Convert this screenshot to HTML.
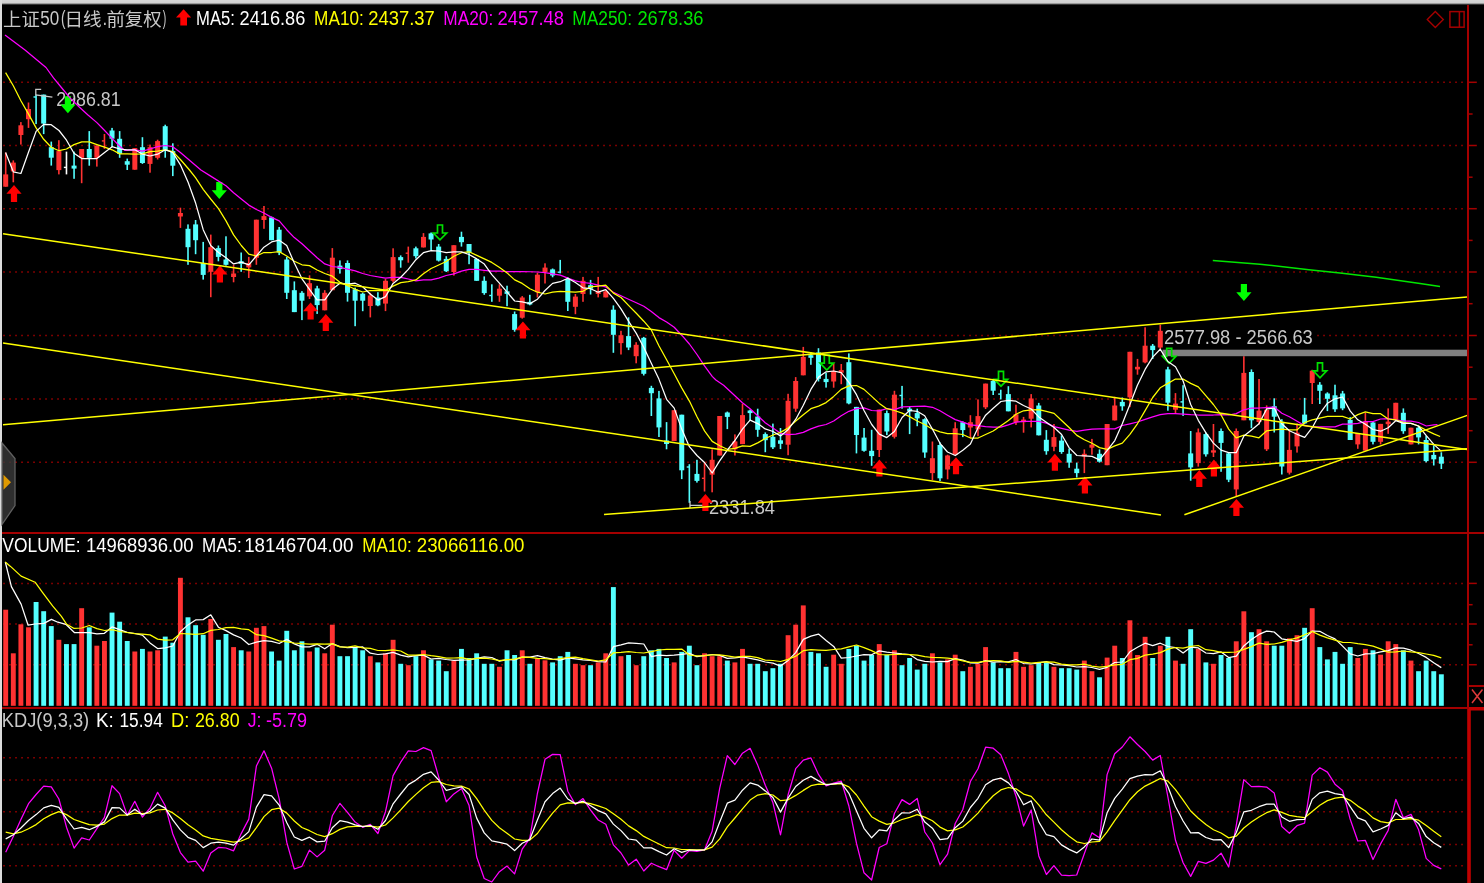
<!DOCTYPE html>
<html lang="zh"><head><meta charset="utf-8"><title>上证50</title>
<style>html,body{margin:0;padding:0;background:#000;overflow:hidden}svg{display:block}</style></head>
<body><svg width="1484" height="883" viewBox="0 0 1484 883" font-family="'Liberation Sans', 'Noto Sans CJK SC', sans-serif"><rect x="0" y="0" width="1484" height="883" fill="#000"/>
<line x1="3.3" y1="82.3" x2="1466" y2="82.3" stroke="#a60000" stroke-width="1.45" stroke-dasharray="1.45 4.55"/>
<line x1="3.3" y1="145.5" x2="1466" y2="145.5" stroke="#a60000" stroke-width="1.45" stroke-dasharray="1.45 4.55"/>
<line x1="3.3" y1="208.7" x2="1466" y2="208.7" stroke="#a60000" stroke-width="1.45" stroke-dasharray="1.45 4.55"/>
<line x1="3.3" y1="272" x2="1466" y2="272" stroke="#a60000" stroke-width="1.45" stroke-dasharray="1.45 4.55"/>
<line x1="3.3" y1="335.5" x2="1466" y2="335.5" stroke="#a60000" stroke-width="1.45" stroke-dasharray="1.45 4.55"/>
<line x1="3.3" y1="399" x2="1466" y2="399" stroke="#a60000" stroke-width="1.45" stroke-dasharray="1.45 4.55"/>
<line x1="3.3" y1="462.3" x2="1466" y2="462.3" stroke="#a60000" stroke-width="1.45" stroke-dasharray="1.45 4.55"/>
<line x1="3.3" y1="583.4" x2="1466" y2="583.4" stroke="#a60000" stroke-width="1.45" stroke-dasharray="1.45 4.55"/>
<line x1="3.3" y1="624" x2="1466" y2="624" stroke="#a60000" stroke-width="1.45" stroke-dasharray="1.45 4.55"/>
<line x1="3.3" y1="664.7" x2="1466" y2="664.7" stroke="#a60000" stroke-width="1.45" stroke-dasharray="1.45 4.55"/>
<line x1="3.3" y1="757.7" x2="1466" y2="757.7" stroke="#a60000" stroke-width="1.45" stroke-dasharray="1.45 4.55"/>
<line x1="3.3" y1="780" x2="1466" y2="780" stroke="#a60000" stroke-width="1.45" stroke-dasharray="1.45 4.55"/>
<line x1="3.3" y1="811.7" x2="1466" y2="811.7" stroke="#a60000" stroke-width="1.45" stroke-dasharray="1.45 4.55"/>
<line x1="3.3" y1="844.5" x2="1466" y2="844.5" stroke="#a60000" stroke-width="1.45" stroke-dasharray="1.45 4.55"/>
<line x1="3.3" y1="865.7" x2="1466" y2="865.7" stroke="#a60000" stroke-width="1.45" stroke-dasharray="1.45 4.55"/>
<rect x="4.90" y="152.5" width="1.6" height="34.2" fill="#ff3232"/>
<rect x="3.20" y="174.4" width="5" height="12.3" fill="#ff3232"/>
<rect x="12.50" y="160.4" width="1.6" height="21.9" fill="#ff3232"/>
<rect x="10.80" y="162.6" width="5" height="8.8" fill="#ff3232"/>
<rect x="20.09" y="122.1" width="1.6" height="22.5" fill="#ff3232"/>
<rect x="18.39" y="125.3" width="5" height="9.7" fill="#ff3232"/>
<rect x="27.69" y="102.5" width="1.6" height="25.4" fill="#ff3232"/>
<rect x="25.99" y="109.0" width="5" height="10.2" fill="#ff3232"/>
<rect x="35.28" y="94.6" width="1.6" height="29.5" fill="#54ffff"/>
<rect x="33.48" y="96.3" width="2.6" height="1.4" fill="#54ffff"/>
<rect x="42.88" y="94.6" width="1.6" height="39.5" fill="#54ffff"/>
<rect x="41.18" y="94.6" width="5" height="29.0" fill="#54ffff"/>
<rect x="50.48" y="141.6" width="1.6" height="24.0" fill="#54ffff"/>
<rect x="48.78" y="147.2" width="5" height="10.5" fill="#54ffff"/>
<rect x="58.07" y="140.2" width="1.6" height="34.2" fill="#ff3232"/>
<rect x="56.37" y="151.1" width="5" height="19.0" fill="#ff3232"/>
<rect x="65.67" y="151.6" width="1.6" height="22.8" fill="#ffffff"/>
<rect x="63.87" y="166.7" width="2.6" height="1.4" fill="#ffffff"/>
<rect x="73.26" y="151.6" width="1.6" height="27.2" fill="#54ffff"/>
<rect x="71.56" y="165.6" width="5" height="3.0" fill="#54ffff"/>
<rect x="80.86" y="149.0" width="1.6" height="34.2" fill="#ff3232"/>
<rect x="79.16" y="149.0" width="5" height="8.8" fill="#ff3232"/>
<rect x="88.46" y="131.1" width="1.6" height="34.6" fill="#54ffff"/>
<rect x="86.76" y="149.0" width="5" height="8.8" fill="#54ffff"/>
<rect x="96.05" y="145.5" width="1.6" height="21.1" fill="#ff3232"/>
<rect x="94.35" y="145.5" width="5" height="12.3" fill="#ff3232"/>
<rect x="103.65" y="134.0" width="1.6" height="14.9" fill="#ff3232"/>
<rect x="101.85" y="140.2" width="2.6" height="1.4" fill="#ff3232"/>
<rect x="111.24" y="127.9" width="1.6" height="19.3" fill="#54ffff"/>
<rect x="109.54" y="130.5" width="5" height="8.2" fill="#54ffff"/>
<rect x="118.84" y="131.1" width="1.6" height="26.7" fill="#54ffff"/>
<rect x="117.14" y="138.8" width="5" height="15.1" fill="#54ffff"/>
<rect x="126.44" y="158.6" width="1.6" height="11.4" fill="#54ffff"/>
<rect x="124.74" y="161.2" width="5" height="3.5" fill="#54ffff"/>
<rect x="134.03" y="148.1" width="1.6" height="21.6" fill="#ff3232"/>
<rect x="132.33" y="148.1" width="5" height="21.6" fill="#ff3232"/>
<rect x="141.63" y="137.2" width="1.6" height="26.7" fill="#54ffff"/>
<rect x="139.93" y="147.2" width="5" height="15.8" fill="#54ffff"/>
<rect x="149.22" y="144.6" width="1.6" height="28.1" fill="#ff3232"/>
<rect x="147.52" y="147.2" width="5" height="16.7" fill="#ff3232"/>
<rect x="156.82" y="139.7" width="1.6" height="19.8" fill="#ff3232"/>
<rect x="155.12" y="141.1" width="5" height="16.7" fill="#ff3232"/>
<rect x="164.42" y="124.7" width="1.6" height="33.0" fill="#54ffff"/>
<rect x="162.72" y="126.2" width="5" height="24.6" fill="#54ffff"/>
<rect x="172.01" y="143.3" width="1.6" height="32.8" fill="#54ffff"/>
<rect x="170.31" y="151.1" width="5" height="14.6" fill="#54ffff"/>
<rect x="179.61" y="207.7" width="1.6" height="20.2" fill="#ff3232"/>
<rect x="177.91" y="213.0" width="5" height="3.5" fill="#ff3232"/>
<rect x="187.20" y="224.4" width="1.6" height="40.4" fill="#54ffff"/>
<rect x="185.50" y="228.8" width="5" height="18.4" fill="#54ffff"/>
<rect x="194.80" y="220.0" width="1.6" height="34.2" fill="#54ffff"/>
<rect x="193.10" y="224.4" width="5" height="15.8" fill="#54ffff"/>
<rect x="202.40" y="241.9" width="1.6" height="37.7" fill="#54ffff"/>
<rect x="200.70" y="263.0" width="5" height="11.9" fill="#54ffff"/>
<rect x="209.99" y="234.6" width="1.6" height="62.6" fill="#ff3232"/>
<rect x="208.29" y="247.2" width="5" height="24.6" fill="#ff3232"/>
<rect x="217.59" y="245.5" width="1.6" height="15.8" fill="#54ffff"/>
<rect x="215.89" y="248.1" width="5" height="8.8" fill="#54ffff"/>
<rect x="225.18" y="236.3" width="1.6" height="29.3" fill="#54ffff"/>
<rect x="223.48" y="259.5" width="5" height="5.3" fill="#54ffff"/>
<rect x="232.78" y="264.8" width="1.6" height="17.5" fill="#ff3232"/>
<rect x="231.08" y="273.5" width="5" height="3.5" fill="#ff3232"/>
<rect x="240.38" y="252.5" width="1.6" height="19.3" fill="#54ffff"/>
<rect x="238.68" y="261.2" width="5" height="2.6" fill="#54ffff"/>
<rect x="247.97" y="256.9" width="1.6" height="21.1" fill="#ff3232"/>
<rect x="246.27" y="263.0" width="5" height="4.4" fill="#ff3232"/>
<rect x="255.57" y="219.7" width="1.6" height="45.1" fill="#ff3232"/>
<rect x="253.87" y="219.7" width="5" height="38.1" fill="#ff3232"/>
<rect x="263.16" y="206.0" width="1.6" height="22.8" fill="#ff3232"/>
<rect x="261.46" y="216.1" width="5" height="3.9" fill="#ff3232"/>
<rect x="270.76" y="216.5" width="1.6" height="23.7" fill="#54ffff"/>
<rect x="269.06" y="217.4" width="5" height="22.8" fill="#54ffff"/>
<rect x="278.36" y="227.0" width="1.6" height="28.1" fill="#54ffff"/>
<rect x="276.66" y="229.7" width="5" height="22.8" fill="#54ffff"/>
<rect x="285.95" y="256.9" width="1.6" height="42.1" fill="#54ffff"/>
<rect x="284.25" y="259.5" width="5" height="33.3" fill="#54ffff"/>
<rect x="293.55" y="281.4" width="1.6" height="30.7" fill="#54ffff"/>
<rect x="291.85" y="290.2" width="5" height="21.9" fill="#54ffff"/>
<rect x="301.14" y="291.1" width="1.6" height="29.0" fill="#54ffff"/>
<rect x="299.44" y="292.8" width="5" height="7.9" fill="#54ffff"/>
<rect x="308.74" y="275.3" width="1.6" height="23.7" fill="#ff3232"/>
<rect x="307.04" y="283.2" width="5" height="13.2" fill="#ff3232"/>
<rect x="316.34" y="285.8" width="1.6" height="28.1" fill="#54ffff"/>
<rect x="314.64" y="288.4" width="5" height="16.7" fill="#54ffff"/>
<rect x="323.93" y="290.2" width="1.6" height="20.2" fill="#ff3232"/>
<rect x="322.23" y="292.8" width="5" height="17.5" fill="#ff3232"/>
<rect x="331.53" y="248.1" width="1.6" height="42.1" fill="#ff3232"/>
<rect x="329.83" y="257.7" width="5" height="32.5" fill="#ff3232"/>
<rect x="339.12" y="260.4" width="1.6" height="13.2" fill="#54ffff"/>
<rect x="337.42" y="265.6" width="5" height="3.5" fill="#54ffff"/>
<rect x="346.72" y="260.4" width="1.6" height="41.2" fill="#54ffff"/>
<rect x="345.02" y="263.0" width="5" height="29.8" fill="#54ffff"/>
<rect x="354.32" y="287.6" width="1.6" height="38.6" fill="#54ffff"/>
<rect x="352.62" y="289.3" width="5" height="11.4" fill="#54ffff"/>
<rect x="361.91" y="292.8" width="1.6" height="18.4" fill="#54ffff"/>
<rect x="360.21" y="293.7" width="5" height="7.0" fill="#54ffff"/>
<rect x="369.51" y="292.8" width="1.6" height="24.6" fill="#ff3232"/>
<rect x="367.81" y="295.5" width="5" height="10.5" fill="#ff3232"/>
<rect x="377.10" y="292.2" width="1.6" height="14.0" fill="#54ffff"/>
<rect x="375.40" y="297.5" width="5" height="7.9" fill="#54ffff"/>
<rect x="384.70" y="279.0" width="1.6" height="32.1" fill="#ff3232"/>
<rect x="383.00" y="280.8" width="5" height="22.8" fill="#ff3232"/>
<rect x="392.30" y="248.3" width="1.6" height="34.2" fill="#ff3232"/>
<rect x="390.60" y="257.1" width="5" height="23.7" fill="#ff3232"/>
<rect x="399.89" y="255.4" width="1.6" height="12.3" fill="#54ffff"/>
<rect x="398.19" y="257.1" width="5" height="3.2" fill="#54ffff"/>
<rect x="407.49" y="246.6" width="1.6" height="16.1" fill="#ff3232"/>
<rect x="405.69" y="252.5" width="2.6" height="1.4" fill="#ff3232"/>
<rect x="415.08" y="246.6" width="1.6" height="11.9" fill="#54ffff"/>
<rect x="413.38" y="248.3" width="5" height="7.9" fill="#54ffff"/>
<rect x="422.68" y="233.1" width="1.6" height="14.4" fill="#ff3232"/>
<rect x="420.98" y="236.9" width="5" height="10.5" fill="#ff3232"/>
<rect x="430.28" y="232.5" width="1.6" height="17.5" fill="#54ffff"/>
<rect x="428.58" y="233.4" width="5" height="6.1" fill="#54ffff"/>
<rect x="437.87" y="244.0" width="1.6" height="17.5" fill="#54ffff"/>
<rect x="436.17" y="246.6" width="5" height="14.0" fill="#54ffff"/>
<rect x="445.47" y="256.2" width="1.6" height="15.8" fill="#54ffff"/>
<rect x="443.77" y="258.9" width="5" height="12.3" fill="#54ffff"/>
<rect x="453.06" y="245.2" width="1.6" height="30.4" fill="#ff3232"/>
<rect x="451.36" y="245.2" width="5" height="26.8" fill="#ff3232"/>
<rect x="460.66" y="231.7" width="1.6" height="14.9" fill="#54ffff"/>
<rect x="458.96" y="236.9" width="5" height="5.3" fill="#54ffff"/>
<rect x="468.26" y="244.0" width="1.6" height="20.2" fill="#54ffff"/>
<rect x="466.56" y="244.0" width="5" height="8.8" fill="#54ffff"/>
<rect x="475.85" y="258.9" width="1.6" height="21.9" fill="#54ffff"/>
<rect x="474.15" y="258.9" width="5" height="21.9" fill="#54ffff"/>
<rect x="483.45" y="276.4" width="1.6" height="18.4" fill="#54ffff"/>
<rect x="481.75" y="280.8" width="5" height="12.3" fill="#54ffff"/>
<rect x="491.04" y="284.3" width="1.6" height="17.5" fill="#54ffff"/>
<rect x="489.24" y="294.8" width="2.6" height="1.4" fill="#54ffff"/>
<rect x="498.64" y="284.3" width="1.6" height="17.5" fill="#ff3232"/>
<rect x="496.94" y="288.7" width="5" height="7.0" fill="#ff3232"/>
<rect x="506.24" y="285.7" width="1.6" height="20.5" fill="#54ffff"/>
<rect x="504.54" y="291.3" width="5" height="2.6" fill="#54ffff"/>
<rect x="513.83" y="311.5" width="1.6" height="20.2" fill="#54ffff"/>
<rect x="512.13" y="314.1" width="5" height="15.8" fill="#54ffff"/>
<rect x="521.43" y="296.1" width="1.6" height="22.5" fill="#ff3232"/>
<rect x="519.73" y="297.5" width="5" height="20.2" fill="#ff3232"/>
<rect x="529.02" y="294.8" width="1.6" height="10.5" fill="#54ffff"/>
<rect x="527.32" y="301.9" width="5" height="2.6" fill="#54ffff"/>
<rect x="536.62" y="272.9" width="1.6" height="24.6" fill="#ff3232"/>
<rect x="534.92" y="274.7" width="5" height="17.5" fill="#ff3232"/>
<rect x="544.22" y="263.3" width="1.6" height="20.2" fill="#ff3232"/>
<rect x="542.52" y="267.6" width="5" height="4.4" fill="#ff3232"/>
<rect x="551.81" y="268.5" width="1.6" height="8.8" fill="#54ffff"/>
<rect x="550.11" y="269.4" width="5" height="6.1" fill="#54ffff"/>
<rect x="559.41" y="259.9" width="1.6" height="13.5" fill="#54ffff"/>
<rect x="557.61" y="271.5" width="2.6" height="1.4" fill="#54ffff"/>
<rect x="567.00" y="277.3" width="1.6" height="33.7" fill="#54ffff"/>
<rect x="565.30" y="279.0" width="5" height="22.8" fill="#54ffff"/>
<rect x="574.60" y="294.0" width="1.6" height="20.2" fill="#ff3232"/>
<rect x="572.90" y="296.6" width="5" height="10.2" fill="#ff3232"/>
<rect x="582.20" y="276.9" width="1.6" height="24.9" fill="#ff3232"/>
<rect x="580.50" y="280.8" width="5" height="13.2" fill="#ff3232"/>
<rect x="589.79" y="279.9" width="1.6" height="14.6" fill="#54ffff"/>
<rect x="588.09" y="285.2" width="5" height="3.5" fill="#54ffff"/>
<rect x="597.39" y="276.9" width="1.6" height="20.5" fill="#ff3232"/>
<rect x="595.69" y="291.3" width="5" height="2.6" fill="#ff3232"/>
<rect x="604.98" y="290.4" width="1.6" height="7.0" fill="#ff3232"/>
<rect x="603.28" y="291.3" width="5" height="6.1" fill="#ff3232"/>
<rect x="612.58" y="305.4" width="1.6" height="47.4" fill="#54ffff"/>
<rect x="610.88" y="309.7" width="5" height="25.1" fill="#54ffff"/>
<rect x="620.18" y="330.8" width="1.6" height="23.7" fill="#ff3232"/>
<rect x="618.48" y="335.2" width="5" height="7.9" fill="#ff3232"/>
<rect x="627.77" y="317.3" width="1.6" height="32.8" fill="#54ffff"/>
<rect x="626.07" y="336.1" width="5" height="11.4" fill="#54ffff"/>
<rect x="635.37" y="342.2" width="1.6" height="21.1" fill="#ff3232"/>
<rect x="633.67" y="344.8" width="5" height="11.4" fill="#ff3232"/>
<rect x="642.96" y="336.9" width="1.6" height="38.6" fill="#54ffff"/>
<rect x="641.26" y="337.8" width="5" height="36.0" fill="#54ffff"/>
<rect x="650.56" y="385.8" width="1.6" height="30.2" fill="#54ffff"/>
<rect x="648.86" y="387.9" width="5" height="5.3" fill="#54ffff"/>
<rect x="658.16" y="390.9" width="1.6" height="46.1" fill="#54ffff"/>
<rect x="656.46" y="398.4" width="5" height="29.0" fill="#54ffff"/>
<rect x="665.75" y="422.1" width="1.6" height="27.2" fill="#54ffff"/>
<rect x="664.05" y="440.5" width="5" height="3.5" fill="#54ffff"/>
<rect x="673.35" y="410.2" width="1.6" height="30.9" fill="#ff3232"/>
<rect x="671.65" y="410.2" width="5" height="30.9" fill="#ff3232"/>
<rect x="680.94" y="414.7" width="1.6" height="64.4" fill="#54ffff"/>
<rect x="679.24" y="414.7" width="5" height="55.6" fill="#54ffff"/>
<rect x="688.54" y="464.2" width="1.6" height="38.6" fill="#54ffff"/>
<rect x="686.74" y="466.3" width="2.6" height="1.4" fill="#54ffff"/>
<rect x="696.14" y="459.8" width="1.6" height="22.8" fill="#54ffff"/>
<rect x="694.44" y="473.9" width="5" height="7.0" fill="#54ffff"/>
<rect x="703.73" y="462.5" width="1.6" height="29.0" fill="#ff3232"/>
<rect x="701.93" y="477.6" width="2.6" height="1.4" fill="#ff3232"/>
<rect x="711.33" y="449.3" width="1.6" height="43.0" fill="#ff3232"/>
<rect x="709.63" y="459.8" width="5" height="14.9" fill="#ff3232"/>
<rect x="718.92" y="416.0" width="1.6" height="39.5" fill="#ff3232"/>
<rect x="717.22" y="416.0" width="5" height="39.5" fill="#ff3232"/>
<rect x="726.52" y="411.6" width="1.6" height="17.5" fill="#54ffff"/>
<rect x="724.82" y="412.5" width="5" height="4.4" fill="#54ffff"/>
<rect x="734.12" y="434.4" width="1.6" height="21.1" fill="#ff3232"/>
<rect x="732.42" y="441.4" width="5" height="7.9" fill="#ff3232"/>
<rect x="741.71" y="403.7" width="1.6" height="40.4" fill="#ff3232"/>
<rect x="740.01" y="415.1" width="5" height="29.0" fill="#ff3232"/>
<rect x="749.31" y="409.6" width="1.6" height="11.4" fill="#54ffff"/>
<rect x="747.61" y="410.5" width="5" height="2.6" fill="#54ffff"/>
<rect x="756.90" y="408.7" width="1.6" height="28.1" fill="#54ffff"/>
<rect x="755.20" y="416.6" width="5" height="13.2" fill="#54ffff"/>
<rect x="764.50" y="432.4" width="1.6" height="19.8" fill="#54ffff"/>
<rect x="762.80" y="434.1" width="5" height="6.1" fill="#54ffff"/>
<rect x="772.10" y="423.6" width="1.6" height="25.4" fill="#54ffff"/>
<rect x="770.40" y="436.8" width="5" height="10.5" fill="#54ffff"/>
<rect x="779.69" y="428.0" width="1.6" height="21.1" fill="#54ffff"/>
<rect x="777.99" y="440.3" width="5" height="3.5" fill="#54ffff"/>
<rect x="787.29" y="393.8" width="1.6" height="61.4" fill="#ff3232"/>
<rect x="785.59" y="400.8" width="5" height="43.9" fill="#ff3232"/>
<rect x="794.88" y="377.1" width="1.6" height="34.7" fill="#ff3232"/>
<rect x="793.18" y="381.0" width="5" height="27.7" fill="#ff3232"/>
<rect x="802.48" y="346.9" width="1.6" height="28.4" fill="#ff3232"/>
<rect x="800.78" y="356.9" width="5" height="18.4" fill="#ff3232"/>
<rect x="810.08" y="352.5" width="1.6" height="12.3" fill="#54ffff"/>
<rect x="808.38" y="355.2" width="5" height="2.6" fill="#54ffff"/>
<rect x="817.67" y="348.2" width="1.6" height="33.3" fill="#54ffff"/>
<rect x="815.97" y="352.5" width="5" height="26.3" fill="#54ffff"/>
<rect x="825.27" y="372.7" width="1.6" height="14.9" fill="#54ffff"/>
<rect x="823.57" y="378.9" width="5" height="3.2" fill="#54ffff"/>
<rect x="832.86" y="363.1" width="1.6" height="24.6" fill="#ff3232"/>
<rect x="831.16" y="371.0" width="5" height="10.5" fill="#ff3232"/>
<rect x="840.46" y="364.0" width="1.6" height="20.2" fill="#ff3232"/>
<rect x="838.76" y="370.1" width="5" height="2.6" fill="#ff3232"/>
<rect x="848.06" y="353.4" width="1.6" height="50.9" fill="#54ffff"/>
<rect x="846.36" y="362.2" width="5" height="41.2" fill="#54ffff"/>
<rect x="855.65" y="406.9" width="1.6" height="46.5" fill="#54ffff"/>
<rect x="853.95" y="406.9" width="5" height="28.1" fill="#54ffff"/>
<rect x="863.25" y="428.0" width="1.6" height="23.7" fill="#54ffff"/>
<rect x="861.55" y="437.6" width="5" height="13.2" fill="#54ffff"/>
<rect x="870.84" y="429.8" width="1.6" height="36.0" fill="#54ffff"/>
<rect x="869.14" y="450.8" width="5" height="5.3" fill="#54ffff"/>
<rect x="878.44" y="409.6" width="1.6" height="47.4" fill="#ff3232"/>
<rect x="876.74" y="409.6" width="5" height="40.4" fill="#ff3232"/>
<rect x="886.04" y="410.5" width="1.6" height="24.6" fill="#54ffff"/>
<rect x="884.34" y="413.1" width="5" height="18.4" fill="#54ffff"/>
<rect x="893.63" y="390.8" width="1.6" height="47.7" fill="#ff3232"/>
<rect x="891.93" y="394.7" width="5" height="42.1" fill="#ff3232"/>
<rect x="901.23" y="385.9" width="1.6" height="22.8" fill="#54ffff"/>
<rect x="899.43" y="394.8" width="2.6" height="1.4" fill="#54ffff"/>
<rect x="908.82" y="406.9" width="1.6" height="27.2" fill="#54ffff"/>
<rect x="907.12" y="408.7" width="5" height="2.6" fill="#54ffff"/>
<rect x="916.42" y="408.7" width="1.6" height="17.5" fill="#54ffff"/>
<rect x="914.72" y="413.1" width="5" height="5.3" fill="#54ffff"/>
<rect x="924.02" y="418.3" width="1.6" height="39.5" fill="#54ffff"/>
<rect x="922.32" y="419.2" width="5" height="33.3" fill="#54ffff"/>
<rect x="931.61" y="441.5" width="1.6" height="38.6" fill="#ff3232"/>
<rect x="929.91" y="458.2" width="5" height="14.9" fill="#ff3232"/>
<rect x="939.21" y="442.4" width="1.6" height="38.6" fill="#54ffff"/>
<rect x="937.51" y="445.0" width="5" height="33.3" fill="#54ffff"/>
<rect x="946.80" y="454.7" width="1.6" height="24.6" fill="#ff3232"/>
<rect x="945.10" y="455.5" width="5" height="14.0" fill="#ff3232"/>
<rect x="954.40" y="422.2" width="1.6" height="32.5" fill="#ff3232"/>
<rect x="952.70" y="428.3" width="5" height="26.3" fill="#ff3232"/>
<rect x="962.00" y="421.3" width="1.6" height="15.8" fill="#54ffff"/>
<rect x="960.30" y="422.2" width="5" height="7.9" fill="#54ffff"/>
<rect x="969.59" y="415.2" width="1.6" height="22.8" fill="#ff3232"/>
<rect x="967.89" y="422.2" width="5" height="5.3" fill="#ff3232"/>
<rect x="977.19" y="399.4" width="1.6" height="36.8" fill="#ff3232"/>
<rect x="975.49" y="416.1" width="5" height="13.2" fill="#ff3232"/>
<rect x="984.78" y="383.6" width="1.6" height="25.4" fill="#ff3232"/>
<rect x="983.08" y="383.6" width="5" height="23.7" fill="#ff3232"/>
<rect x="992.38" y="379.2" width="1.6" height="15.8" fill="#54ffff"/>
<rect x="990.68" y="381.0" width="5" height="9.7" fill="#54ffff"/>
<rect x="999.98" y="389.7" width="1.6" height="9.7" fill="#54ffff"/>
<rect x="998.18" y="393.4" width="2.6" height="1.4" fill="#54ffff"/>
<rect x="1007.57" y="386.2" width="1.6" height="25.1" fill="#54ffff"/>
<rect x="1005.87" y="394.1" width="5" height="17.2" fill="#54ffff"/>
<rect x="1015.17" y="404.7" width="1.6" height="20.2" fill="#ff3232"/>
<rect x="1013.47" y="414.3" width="5" height="7.9" fill="#ff3232"/>
<rect x="1022.76" y="416.9" width="1.6" height="15.8" fill="#ff3232"/>
<rect x="1021.06" y="419.6" width="5" height="2.6" fill="#ff3232"/>
<rect x="1030.36" y="394.1" width="1.6" height="33.3" fill="#ff3232"/>
<rect x="1028.66" y="398.5" width="5" height="20.2" fill="#ff3232"/>
<rect x="1037.96" y="402.9" width="1.6" height="32.5" fill="#54ffff"/>
<rect x="1036.26" y="405.5" width="5" height="29.8" fill="#54ffff"/>
<rect x="1045.55" y="430.1" width="1.6" height="24.6" fill="#54ffff"/>
<rect x="1043.85" y="439.8" width="5" height="11.4" fill="#54ffff"/>
<rect x="1053.15" y="424.0" width="1.6" height="27.2" fill="#ff3232"/>
<rect x="1051.45" y="437.1" width="5" height="9.7" fill="#ff3232"/>
<rect x="1060.74" y="435.4" width="1.6" height="18.4" fill="#54ffff"/>
<rect x="1059.04" y="440.6" width="5" height="11.4" fill="#54ffff"/>
<rect x="1068.34" y="448.5" width="1.6" height="19.3" fill="#54ffff"/>
<rect x="1066.64" y="453.8" width="5" height="8.8" fill="#54ffff"/>
<rect x="1075.94" y="462.6" width="1.6" height="14.9" fill="#54ffff"/>
<rect x="1074.24" y="468.7" width="5" height="4.4" fill="#54ffff"/>
<rect x="1083.53" y="449.4" width="1.6" height="23.7" fill="#ff3232"/>
<rect x="1081.83" y="453.8" width="5" height="2.6" fill="#ff3232"/>
<rect x="1091.13" y="438.9" width="1.6" height="15.8" fill="#ff3232"/>
<rect x="1089.43" y="444.7" width="5" height="3.0" fill="#ff3232"/>
<rect x="1098.72" y="449.4" width="1.6" height="13.2" fill="#54ffff"/>
<rect x="1097.02" y="453.8" width="5" height="7.9" fill="#54ffff"/>
<rect x="1106.32" y="424.0" width="1.6" height="41.2" fill="#ff3232"/>
<rect x="1104.62" y="424.0" width="5" height="41.2" fill="#ff3232"/>
<rect x="1113.92" y="396.8" width="1.6" height="23.7" fill="#ff3232"/>
<rect x="1112.22" y="405.5" width="5" height="14.9" fill="#ff3232"/>
<rect x="1121.51" y="397.5" width="1.6" height="13.2" fill="#54ffff"/>
<rect x="1119.81" y="401.9" width="5" height="4.4" fill="#54ffff"/>
<rect x="1129.11" y="351.8" width="1.6" height="55.3" fill="#ff3232"/>
<rect x="1127.41" y="351.8" width="5" height="45.6" fill="#ff3232"/>
<rect x="1136.70" y="358.9" width="1.6" height="15.8" fill="#ff3232"/>
<rect x="1135.00" y="366.8" width="5" height="2.6" fill="#ff3232"/>
<rect x="1144.30" y="327.3" width="1.6" height="36.0" fill="#ff3232"/>
<rect x="1142.60" y="345.7" width="5" height="16.7" fill="#ff3232"/>
<rect x="1151.90" y="344.0" width="1.6" height="14.9" fill="#54ffff"/>
<rect x="1150.20" y="345.7" width="5" height="4.4" fill="#54ffff"/>
<rect x="1159.49" y="324.7" width="1.6" height="24.6" fill="#ff3232"/>
<rect x="1157.79" y="330.8" width="5" height="16.7" fill="#ff3232"/>
<rect x="1167.09" y="366.8" width="1.6" height="43.9" fill="#54ffff"/>
<rect x="1165.39" y="369.4" width="5" height="33.3" fill="#54ffff"/>
<rect x="1174.68" y="393.1" width="1.6" height="20.2" fill="#ff3232"/>
<rect x="1172.98" y="403.6" width="5" height="6.1" fill="#ff3232"/>
<rect x="1182.28" y="385.2" width="1.6" height="30.7" fill="#54ffff"/>
<rect x="1180.48" y="401.2" width="2.6" height="1.4" fill="#54ffff"/>
<rect x="1189.88" y="431.0" width="1.6" height="49.7" fill="#54ffff"/>
<rect x="1188.18" y="453.4" width="5" height="14.0" fill="#54ffff"/>
<rect x="1197.47" y="428.5" width="1.6" height="38.1" fill="#ff3232"/>
<rect x="1195.77" y="432.4" width="5" height="30.7" fill="#ff3232"/>
<rect x="1205.07" y="432.4" width="1.6" height="24.2" fill="#54ffff"/>
<rect x="1203.37" y="434.1" width="5" height="20.2" fill="#54ffff"/>
<rect x="1212.66" y="424.0" width="1.6" height="33.0" fill="#ff3232"/>
<rect x="1210.96" y="450.3" width="5" height="2.3" fill="#ff3232"/>
<rect x="1220.26" y="428.5" width="1.6" height="43.3" fill="#54ffff"/>
<rect x="1218.56" y="431.0" width="5" height="11.9" fill="#54ffff"/>
<rect x="1227.86" y="452.6" width="1.6" height="29.5" fill="#54ffff"/>
<rect x="1226.16" y="453.4" width="5" height="26.3" fill="#54ffff"/>
<rect x="1235.45" y="428.5" width="1.6" height="67.9" fill="#ff3232"/>
<rect x="1233.75" y="431.0" width="5" height="58.4" fill="#ff3232"/>
<rect x="1243.05" y="356.2" width="1.6" height="64.0" fill="#ff3232"/>
<rect x="1241.35" y="372.9" width="5" height="47.4" fill="#ff3232"/>
<rect x="1250.64" y="369.4" width="1.6" height="58.8" fill="#54ffff"/>
<rect x="1248.94" y="372.0" width="5" height="48.3" fill="#54ffff"/>
<rect x="1258.24" y="379.0" width="1.6" height="45.6" fill="#ff3232"/>
<rect x="1256.54" y="410.6" width="5" height="11.4" fill="#ff3232"/>
<rect x="1265.84" y="405.4" width="1.6" height="45.6" fill="#ff3232"/>
<rect x="1264.14" y="409.8" width="5" height="39.5" fill="#ff3232"/>
<rect x="1273.43" y="398.3" width="1.6" height="34.2" fill="#54ffff"/>
<rect x="1271.73" y="406.2" width="5" height="10.5" fill="#54ffff"/>
<rect x="1281.03" y="419.2" width="1.6" height="55.3" fill="#54ffff"/>
<rect x="1279.33" y="421.8" width="5" height="44.7" fill="#54ffff"/>
<rect x="1288.62" y="431.0" width="1.6" height="43.5" fill="#ff3232"/>
<rect x="1286.92" y="449.9" width="5" height="22.8" fill="#ff3232"/>
<rect x="1296.22" y="423.6" width="1.6" height="29.0" fill="#ff3232"/>
<rect x="1294.52" y="432.7" width="5" height="13.7" fill="#ff3232"/>
<rect x="1303.82" y="397.9" width="1.6" height="26.3" fill="#54ffff"/>
<rect x="1302.12" y="414.6" width="5" height="8.8" fill="#54ffff"/>
<rect x="1311.41" y="369.8" width="1.6" height="34.2" fill="#ff3232"/>
<rect x="1309.71" y="370.7" width="5" height="12.3" fill="#ff3232"/>
<rect x="1319.01" y="382.1" width="1.6" height="21.9" fill="#54ffff"/>
<rect x="1317.31" y="384.7" width="5" height="6.1" fill="#54ffff"/>
<rect x="1326.60" y="392.3" width="1.6" height="18.8" fill="#54ffff"/>
<rect x="1324.90" y="393.5" width="5" height="5.3" fill="#54ffff"/>
<rect x="1334.20" y="384.7" width="1.6" height="27.2" fill="#54ffff"/>
<rect x="1332.50" y="395.3" width="5" height="14.0" fill="#54ffff"/>
<rect x="1341.80" y="390.9" width="1.6" height="19.3" fill="#54ffff"/>
<rect x="1340.10" y="393.5" width="5" height="14.9" fill="#54ffff"/>
<rect x="1349.39" y="417.2" width="1.6" height="22.8" fill="#54ffff"/>
<rect x="1347.69" y="419.8" width="5" height="20.2" fill="#54ffff"/>
<rect x="1356.99" y="433.0" width="1.6" height="15.8" fill="#ff3232"/>
<rect x="1355.29" y="433.0" width="5" height="11.4" fill="#ff3232"/>
<rect x="1364.58" y="412.8" width="1.6" height="37.7" fill="#ff3232"/>
<rect x="1362.88" y="421.6" width="5" height="29.0" fill="#ff3232"/>
<rect x="1372.18" y="421.6" width="1.6" height="22.8" fill="#54ffff"/>
<rect x="1370.48" y="422.5" width="5" height="19.3" fill="#54ffff"/>
<rect x="1379.78" y="423.9" width="1.6" height="20.5" fill="#ff3232"/>
<rect x="1378.08" y="423.9" width="5" height="17.9" fill="#ff3232"/>
<rect x="1387.37" y="408.4" width="1.6" height="25.4" fill="#ff3232"/>
<rect x="1385.67" y="421.6" width="5" height="2.6" fill="#ff3232"/>
<rect x="1394.97" y="402.8" width="1.6" height="17.0" fill="#ff3232"/>
<rect x="1393.27" y="402.8" width="5" height="17.0" fill="#ff3232"/>
<rect x="1402.56" y="408.4" width="1.6" height="25.4" fill="#54ffff"/>
<rect x="1400.86" y="412.8" width="5" height="18.4" fill="#54ffff"/>
<rect x="1410.16" y="427.7" width="1.6" height="16.7" fill="#ff3232"/>
<rect x="1408.46" y="427.7" width="5" height="16.7" fill="#ff3232"/>
<rect x="1417.76" y="426.0" width="1.6" height="18.4" fill="#54ffff"/>
<rect x="1416.06" y="427.7" width="5" height="9.7" fill="#54ffff"/>
<rect x="1425.35" y="435.6" width="1.6" height="26.8" fill="#54ffff"/>
<rect x="1423.65" y="440.0" width="5" height="21.1" fill="#54ffff"/>
<rect x="1432.95" y="445.3" width="1.6" height="20.2" fill="#54ffff"/>
<rect x="1431.25" y="454.9" width="5" height="4.4" fill="#54ffff"/>
<rect x="1440.54" y="452.3" width="1.6" height="16.7" fill="#54ffff"/>
<rect x="1438.84" y="456.7" width="5" height="7.0" fill="#54ffff"/>
<rect x="3.25" y="609.7" width="4.9" height="96.1" fill="#ff3232"/>
<rect x="10.85" y="653.3" width="4.9" height="52.5" fill="#ff3232"/>
<rect x="18.44" y="624.3" width="4.9" height="81.5" fill="#ff3232"/>
<rect x="26.04" y="627.3" width="4.9" height="78.5" fill="#ff3232"/>
<rect x="33.63" y="602.0" width="4.9" height="103.8" fill="#54ffff"/>
<rect x="41.23" y="611.2" width="4.9" height="94.6" fill="#54ffff"/>
<rect x="48.83" y="626.1" width="4.9" height="79.7" fill="#54ffff"/>
<rect x="56.42" y="639.8" width="4.9" height="66.0" fill="#ff3232"/>
<rect x="64.02" y="644.1" width="4.9" height="61.7" fill="#54ffff"/>
<rect x="71.61" y="644.1" width="4.9" height="61.7" fill="#54ffff"/>
<rect x="79.21" y="608.2" width="4.9" height="97.6" fill="#ff3232"/>
<rect x="86.81" y="627.3" width="4.9" height="78.5" fill="#54ffff"/>
<rect x="94.40" y="645.7" width="4.9" height="60.1" fill="#ff3232"/>
<rect x="102.00" y="641.0" width="4.9" height="64.8" fill="#ff3232"/>
<rect x="109.59" y="612.6" width="4.9" height="93.2" fill="#54ffff"/>
<rect x="117.19" y="621.7" width="4.9" height="84.1" fill="#54ffff"/>
<rect x="124.79" y="641.0" width="4.9" height="64.8" fill="#54ffff"/>
<rect x="132.38" y="651.5" width="4.9" height="54.3" fill="#ff3232"/>
<rect x="139.98" y="648.9" width="4.9" height="56.9" fill="#54ffff"/>
<rect x="147.57" y="651.5" width="4.9" height="54.3" fill="#ff3232"/>
<rect x="155.17" y="650.3" width="4.9" height="55.5" fill="#ff3232"/>
<rect x="162.77" y="636.6" width="4.9" height="69.2" fill="#54ffff"/>
<rect x="170.36" y="642.7" width="4.9" height="63.1" fill="#54ffff"/>
<rect x="177.96" y="577.8" width="4.9" height="128.0" fill="#ff3232"/>
<rect x="185.55" y="617.3" width="4.9" height="88.5" fill="#54ffff"/>
<rect x="193.15" y="625.2" width="4.9" height="80.6" fill="#54ffff"/>
<rect x="200.75" y="634.8" width="4.9" height="71.0" fill="#54ffff"/>
<rect x="208.34" y="619.0" width="4.9" height="86.8" fill="#ff3232"/>
<rect x="215.94" y="639.8" width="4.9" height="66.0" fill="#54ffff"/>
<rect x="223.53" y="634.0" width="4.9" height="71.8" fill="#54ffff"/>
<rect x="231.13" y="647.1" width="4.9" height="58.7" fill="#ff3232"/>
<rect x="238.73" y="650.3" width="4.9" height="55.5" fill="#54ffff"/>
<rect x="246.32" y="651.5" width="4.9" height="54.3" fill="#ff3232"/>
<rect x="253.92" y="627.8" width="4.9" height="78.0" fill="#ff3232"/>
<rect x="261.51" y="626.1" width="4.9" height="79.7" fill="#ff3232"/>
<rect x="269.11" y="651.5" width="4.9" height="54.3" fill="#54ffff"/>
<rect x="276.71" y="660.6" width="4.9" height="45.2" fill="#54ffff"/>
<rect x="284.30" y="630.8" width="4.9" height="75.0" fill="#54ffff"/>
<rect x="291.90" y="650.3" width="4.9" height="55.5" fill="#54ffff"/>
<rect x="299.49" y="641.3" width="4.9" height="64.5" fill="#54ffff"/>
<rect x="307.09" y="651.5" width="4.9" height="54.3" fill="#ff3232"/>
<rect x="314.69" y="647.5" width="4.9" height="58.3" fill="#54ffff"/>
<rect x="322.28" y="653.3" width="4.9" height="52.5" fill="#ff3232"/>
<rect x="329.88" y="624.7" width="4.9" height="81.1" fill="#ff3232"/>
<rect x="337.47" y="656.2" width="4.9" height="49.6" fill="#54ffff"/>
<rect x="345.07" y="656.2" width="4.9" height="49.6" fill="#54ffff"/>
<rect x="352.67" y="647.1" width="4.9" height="58.7" fill="#54ffff"/>
<rect x="360.26" y="650.3" width="4.9" height="55.5" fill="#54ffff"/>
<rect x="367.86" y="656.2" width="4.9" height="49.6" fill="#ff3232"/>
<rect x="375.45" y="662.4" width="4.9" height="43.4" fill="#54ffff"/>
<rect x="383.05" y="653.3" width="4.9" height="52.5" fill="#ff3232"/>
<rect x="390.65" y="639.8" width="4.9" height="66.0" fill="#ff3232"/>
<rect x="398.24" y="663.8" width="4.9" height="42.0" fill="#54ffff"/>
<rect x="405.84" y="665.2" width="4.9" height="40.6" fill="#ff3232"/>
<rect x="413.43" y="656.2" width="4.9" height="49.6" fill="#54ffff"/>
<rect x="421.03" y="650.3" width="4.9" height="55.5" fill="#ff3232"/>
<rect x="428.63" y="659.4" width="4.9" height="46.4" fill="#54ffff"/>
<rect x="436.22" y="660.6" width="4.9" height="45.2" fill="#54ffff"/>
<rect x="443.82" y="671.2" width="4.9" height="34.6" fill="#54ffff"/>
<rect x="451.41" y="660.6" width="4.9" height="45.2" fill="#ff3232"/>
<rect x="459.01" y="648.9" width="4.9" height="56.9" fill="#54ffff"/>
<rect x="466.61" y="658.0" width="4.9" height="47.8" fill="#54ffff"/>
<rect x="474.20" y="653.3" width="4.9" height="52.5" fill="#54ffff"/>
<rect x="481.80" y="663.8" width="4.9" height="42.0" fill="#54ffff"/>
<rect x="489.39" y="663.8" width="4.9" height="42.0" fill="#54ffff"/>
<rect x="496.99" y="666.8" width="4.9" height="39.0" fill="#ff3232"/>
<rect x="504.59" y="650.3" width="4.9" height="55.5" fill="#54ffff"/>
<rect x="512.18" y="655.0" width="4.9" height="50.8" fill="#54ffff"/>
<rect x="519.78" y="650.3" width="4.9" height="55.5" fill="#ff3232"/>
<rect x="527.37" y="663.8" width="4.9" height="42.0" fill="#54ffff"/>
<rect x="534.97" y="658.5" width="4.9" height="47.3" fill="#ff3232"/>
<rect x="542.57" y="660.3" width="4.9" height="45.5" fill="#ff3232"/>
<rect x="550.16" y="662.4" width="4.9" height="43.4" fill="#54ffff"/>
<rect x="557.76" y="656.2" width="4.9" height="49.6" fill="#54ffff"/>
<rect x="565.35" y="651.9" width="4.9" height="53.9" fill="#54ffff"/>
<rect x="572.95" y="663.8" width="4.9" height="42.0" fill="#ff3232"/>
<rect x="580.55" y="665.2" width="4.9" height="40.6" fill="#ff3232"/>
<rect x="588.14" y="665.2" width="4.9" height="40.6" fill="#54ffff"/>
<rect x="595.74" y="662.4" width="4.9" height="43.4" fill="#ff3232"/>
<rect x="603.33" y="653.3" width="4.9" height="52.5" fill="#ff3232"/>
<rect x="610.93" y="587.1" width="4.9" height="118.7" fill="#54ffff"/>
<rect x="618.53" y="656.2" width="4.9" height="49.6" fill="#ff3232"/>
<rect x="626.12" y="655.0" width="4.9" height="50.8" fill="#54ffff"/>
<rect x="633.72" y="665.2" width="4.9" height="40.6" fill="#ff3232"/>
<rect x="641.31" y="656.2" width="4.9" height="49.6" fill="#54ffff"/>
<rect x="648.91" y="650.3" width="4.9" height="55.5" fill="#54ffff"/>
<rect x="656.51" y="648.9" width="4.9" height="56.9" fill="#54ffff"/>
<rect x="664.10" y="658.0" width="4.9" height="47.8" fill="#54ffff"/>
<rect x="671.70" y="662.4" width="4.9" height="43.4" fill="#ff3232"/>
<rect x="679.29" y="651.9" width="4.9" height="53.9" fill="#54ffff"/>
<rect x="686.89" y="645.7" width="4.9" height="60.1" fill="#54ffff"/>
<rect x="694.49" y="665.2" width="4.9" height="40.6" fill="#54ffff"/>
<rect x="702.08" y="653.3" width="4.9" height="52.5" fill="#ff3232"/>
<rect x="709.68" y="656.2" width="4.9" height="49.6" fill="#ff3232"/>
<rect x="717.27" y="656.2" width="4.9" height="49.6" fill="#ff3232"/>
<rect x="724.87" y="660.6" width="4.9" height="45.2" fill="#54ffff"/>
<rect x="732.47" y="662.4" width="4.9" height="43.4" fill="#ff3232"/>
<rect x="740.06" y="648.9" width="4.9" height="56.9" fill="#ff3232"/>
<rect x="747.66" y="663.8" width="4.9" height="42.0" fill="#54ffff"/>
<rect x="755.25" y="663.8" width="4.9" height="42.0" fill="#54ffff"/>
<rect x="762.85" y="671.2" width="4.9" height="34.6" fill="#54ffff"/>
<rect x="770.45" y="668.2" width="4.9" height="37.6" fill="#54ffff"/>
<rect x="778.04" y="663.8" width="4.9" height="42.0" fill="#54ffff"/>
<rect x="785.64" y="635.2" width="4.9" height="70.6" fill="#ff3232"/>
<rect x="793.23" y="624.7" width="4.9" height="81.1" fill="#ff3232"/>
<rect x="800.83" y="605.4" width="4.9" height="100.4" fill="#ff3232"/>
<rect x="808.43" y="651.9" width="4.9" height="53.9" fill="#54ffff"/>
<rect x="816.02" y="653.3" width="4.9" height="52.5" fill="#54ffff"/>
<rect x="823.62" y="666.8" width="4.9" height="39.0" fill="#54ffff"/>
<rect x="831.21" y="654.7" width="4.9" height="51.1" fill="#ff3232"/>
<rect x="838.81" y="663.8" width="4.9" height="42.0" fill="#ff3232"/>
<rect x="846.41" y="648.9" width="4.9" height="56.9" fill="#54ffff"/>
<rect x="854.00" y="645.7" width="4.9" height="60.1" fill="#54ffff"/>
<rect x="861.60" y="660.6" width="4.9" height="45.2" fill="#54ffff"/>
<rect x="869.19" y="655.0" width="4.9" height="50.8" fill="#54ffff"/>
<rect x="876.79" y="644.1" width="4.9" height="61.7" fill="#ff3232"/>
<rect x="884.39" y="655.0" width="4.9" height="50.8" fill="#54ffff"/>
<rect x="891.98" y="650.3" width="4.9" height="55.5" fill="#ff3232"/>
<rect x="899.58" y="665.2" width="4.9" height="40.6" fill="#54ffff"/>
<rect x="907.17" y="658.0" width="4.9" height="47.8" fill="#54ffff"/>
<rect x="914.77" y="669.6" width="4.9" height="36.2" fill="#54ffff"/>
<rect x="922.37" y="663.8" width="4.9" height="42.0" fill="#54ffff"/>
<rect x="929.96" y="653.3" width="4.9" height="52.5" fill="#ff3232"/>
<rect x="937.56" y="662.4" width="4.9" height="43.4" fill="#54ffff"/>
<rect x="945.15" y="659.4" width="4.9" height="46.4" fill="#ff3232"/>
<rect x="952.75" y="654.7" width="4.9" height="51.1" fill="#ff3232"/>
<rect x="960.35" y="671.2" width="4.9" height="34.6" fill="#54ffff"/>
<rect x="967.94" y="666.8" width="4.9" height="39.0" fill="#ff3232"/>
<rect x="975.54" y="663.8" width="4.9" height="42.0" fill="#ff3232"/>
<rect x="983.13" y="647.1" width="4.9" height="58.7" fill="#ff3232"/>
<rect x="990.73" y="662.4" width="4.9" height="43.4" fill="#54ffff"/>
<rect x="998.33" y="668.2" width="4.9" height="37.6" fill="#54ffff"/>
<rect x="1005.92" y="668.2" width="4.9" height="37.6" fill="#54ffff"/>
<rect x="1013.52" y="651.9" width="4.9" height="53.9" fill="#ff3232"/>
<rect x="1021.11" y="666.8" width="4.9" height="39.0" fill="#ff3232"/>
<rect x="1028.71" y="665.2" width="4.9" height="40.6" fill="#ff3232"/>
<rect x="1036.31" y="662.4" width="4.9" height="43.4" fill="#54ffff"/>
<rect x="1043.90" y="662.4" width="4.9" height="43.4" fill="#54ffff"/>
<rect x="1051.50" y="666.8" width="4.9" height="39.0" fill="#ff3232"/>
<rect x="1059.09" y="668.2" width="4.9" height="37.6" fill="#54ffff"/>
<rect x="1066.69" y="668.2" width="4.9" height="37.6" fill="#54ffff"/>
<rect x="1074.29" y="669.6" width="4.9" height="36.2" fill="#54ffff"/>
<rect x="1081.88" y="660.6" width="4.9" height="45.2" fill="#ff3232"/>
<rect x="1089.48" y="671.2" width="4.9" height="34.6" fill="#ff3232"/>
<rect x="1097.07" y="677.3" width="4.9" height="28.5" fill="#54ffff"/>
<rect x="1104.67" y="657.6" width="4.9" height="48.2" fill="#ff3232"/>
<rect x="1112.27" y="645.7" width="4.9" height="60.1" fill="#ff3232"/>
<rect x="1119.86" y="658.0" width="4.9" height="47.8" fill="#54ffff"/>
<rect x="1127.46" y="620.3" width="4.9" height="85.5" fill="#ff3232"/>
<rect x="1135.05" y="655.0" width="4.9" height="50.8" fill="#ff3232"/>
<rect x="1142.65" y="636.8" width="4.9" height="69.0" fill="#ff3232"/>
<rect x="1150.25" y="658.0" width="4.9" height="47.8" fill="#54ffff"/>
<rect x="1157.84" y="645.7" width="4.9" height="60.1" fill="#ff3232"/>
<rect x="1165.44" y="636.8" width="4.9" height="69.0" fill="#54ffff"/>
<rect x="1173.03" y="660.6" width="4.9" height="45.2" fill="#ff3232"/>
<rect x="1180.63" y="663.8" width="4.9" height="42.0" fill="#54ffff"/>
<rect x="1188.23" y="629.2" width="4.9" height="76.6" fill="#54ffff"/>
<rect x="1195.82" y="648.9" width="4.9" height="56.9" fill="#ff3232"/>
<rect x="1203.42" y="662.4" width="4.9" height="43.4" fill="#54ffff"/>
<rect x="1211.01" y="663.8" width="4.9" height="42.0" fill="#ff3232"/>
<rect x="1218.61" y="655.0" width="4.9" height="50.8" fill="#54ffff"/>
<rect x="1226.21" y="658.0" width="4.9" height="47.8" fill="#54ffff"/>
<rect x="1233.80" y="641.3" width="4.9" height="64.5" fill="#ff3232"/>
<rect x="1241.40" y="611.3" width="4.9" height="94.5" fill="#ff3232"/>
<rect x="1248.99" y="632.2" width="4.9" height="73.6" fill="#54ffff"/>
<rect x="1256.59" y="629.2" width="4.9" height="76.6" fill="#ff3232"/>
<rect x="1264.19" y="641.3" width="4.9" height="64.5" fill="#ff3232"/>
<rect x="1271.78" y="645.7" width="4.9" height="60.1" fill="#54ffff"/>
<rect x="1279.38" y="645.7" width="4.9" height="60.1" fill="#54ffff"/>
<rect x="1286.97" y="638.3" width="4.9" height="67.5" fill="#ff3232"/>
<rect x="1294.57" y="635.2" width="4.9" height="70.6" fill="#ff3232"/>
<rect x="1302.17" y="627.8" width="4.9" height="78.0" fill="#54ffff"/>
<rect x="1309.76" y="608.2" width="4.9" height="97.6" fill="#ff3232"/>
<rect x="1317.36" y="647.1" width="4.9" height="58.7" fill="#54ffff"/>
<rect x="1324.95" y="659.4" width="4.9" height="46.4" fill="#54ffff"/>
<rect x="1332.55" y="651.9" width="4.9" height="53.9" fill="#54ffff"/>
<rect x="1340.15" y="663.8" width="4.9" height="42.0" fill="#54ffff"/>
<rect x="1347.74" y="647.1" width="4.9" height="58.7" fill="#54ffff"/>
<rect x="1355.34" y="658.0" width="4.9" height="47.8" fill="#ff3232"/>
<rect x="1362.93" y="648.9" width="4.9" height="56.9" fill="#ff3232"/>
<rect x="1370.53" y="650.3" width="4.9" height="55.5" fill="#54ffff"/>
<rect x="1378.13" y="654.7" width="4.9" height="51.1" fill="#ff3232"/>
<rect x="1385.72" y="641.3" width="4.9" height="64.5" fill="#ff3232"/>
<rect x="1393.32" y="644.1" width="4.9" height="61.7" fill="#ff3232"/>
<rect x="1400.91" y="650.3" width="4.9" height="55.5" fill="#54ffff"/>
<rect x="1408.51" y="660.6" width="4.9" height="45.2" fill="#ff3232"/>
<rect x="1416.11" y="671.2" width="4.9" height="34.6" fill="#54ffff"/>
<rect x="1423.70" y="660.6" width="4.9" height="45.2" fill="#54ffff"/>
<rect x="1431.30" y="671.2" width="4.9" height="34.6" fill="#54ffff"/>
<rect x="1438.89" y="674.3" width="4.9" height="31.5" fill="#54ffff"/>
<polyline points="5.3,562.0 11.4,586.6 21.1,604.1 28.1,625.2 35.1,624.0 43.9,623.4 51.4,619.4 57.9,622.2 65.8,624.3 74.6,632.7 81.7,632.5 89.3,632.7 96.9,633.9 104.4,633.3 112.0,626.9 119.6,629.6 127.2,632.4 134.8,633.5 142.4,635.1 150.0,642.9 157.6,648.6 165.2,647.8 172.8,646.0 180.4,631.8 188.0,624.9 195.6,619.9 203.2,619.6 210.8,614.8 218.4,627.2 226.0,630.6 233.6,634.9 241.2,638.0 248.8,644.5 256.4,642.1 264.0,640.6 271.6,641.4 279.2,643.5 286.8,639.4 294.3,643.9 301.9,646.9 309.5,646.9 317.1,644.3 324.7,648.8 332.3,643.6 339.9,646.6 347.5,647.6 355.1,647.5 362.7,646.9 370.3,653.2 377.9,654.5 385.5,653.9 393.1,652.4 400.7,655.1 408.3,656.9 415.9,655.6 423.5,655.1 431.1,659.0 438.7,658.4 446.3,659.5 453.9,660.4 461.5,660.1 469.1,659.9 476.7,658.4 484.2,656.9 491.8,657.5 499.4,661.1 507.0,659.6 514.6,659.9 522.2,657.2 529.8,657.2 537.4,655.6 545.0,657.6 552.6,659.1 560.2,660.2 567.8,657.9 575.4,658.9 583.0,659.9 590.6,660.5 598.2,661.7 605.8,662.0 613.4,646.6 621.0,644.8 628.6,642.8 636.2,643.4 643.8,644.0 651.4,656.6 659.0,655.1 666.6,655.7 674.1,655.2 681.7,654.3 689.3,653.4 696.9,656.6 704.5,655.7 712.1,654.5 719.7,655.3 727.3,658.3 734.9,657.8 742.5,656.9 750.1,658.4 757.7,659.9 765.3,662.0 772.9,663.2 780.5,666.1 788.1,660.4 795.7,652.6 803.3,639.4 810.9,636.2 818.5,634.1 826.1,640.4 833.7,646.4 841.3,658.1 848.9,657.5 856.5,656.0 864.0,654.7 871.6,654.8 879.2,650.9 886.8,652.1 894.4,653.0 902.0,653.9 909.6,654.5 917.2,659.6 924.8,661.4 932.4,662.0 940.0,661.4 947.6,661.7 955.2,658.7 962.8,660.2 970.4,662.9 978.0,663.2 985.6,660.7 993.2,662.2 1000.8,661.7 1008.4,661.9 1016.0,659.5 1023.6,663.5 1031.2,664.0 1038.8,662.9 1046.4,661.7 1053.9,664.7 1061.5,665.0 1069.1,665.6 1076.7,667.0 1084.3,666.7 1091.9,667.5 1099.5,669.4 1107.1,667.3 1114.7,662.5 1122.3,662.0 1129.9,651.8 1137.5,647.3 1145.1,643.2 1152.7,645.6 1160.3,643.2 1167.9,646.5 1175.5,647.6 1183.1,653.0 1190.7,647.2 1198.3,647.9 1205.9,653.0 1213.5,653.6 1221.1,651.9 1228.7,657.6 1236.3,656.1 1243.8,645.9 1251.4,639.6 1259.0,634.4 1266.6,631.1 1274.2,632.0 1281.8,638.8 1289.4,640.1 1297.0,641.3 1304.6,638.6 1312.2,631.0 1319.8,631.3 1327.4,635.5 1335.0,638.9 1342.6,646.1 1350.2,653.9 1357.8,656.0 1365.4,653.9 1373.0,653.6 1380.6,651.8 1388.2,650.6 1395.8,647.9 1403.4,648.1 1411.0,650.2 1418.6,653.5 1426.2,657.4 1433.7,662.8 1441.3,667.6" fill="none" stroke="#ffffff" stroke-width="1.25" stroke-linejoin="round" />
<polyline points="5.3,562.0 10.5,566.4 21.1,576.1 35.1,582.2 42.1,591.8 52.6,605.9 61.4,616.4 66.7,624.3 73.7,628.3 81.8,628.0 89.3,625.5 96.9,628.7 104.6,630.5 112.1,629.7 119.7,631.5 127.2,632.5 134.8,633.7 142.4,634.2 150.0,634.9 157.6,639.1 165.2,640.1 172.8,639.8 180.4,633.5 188.0,633.9 195.6,634.3 203.2,633.7 210.8,630.4 218.4,629.5 226.0,627.7 233.6,627.4 241.2,628.8 248.8,629.7 256.4,634.7 264.0,635.6 271.6,638.2 279.2,640.8 286.8,641.9 294.3,643.0 301.9,643.7 309.5,644.2 317.1,643.9 324.7,644.1 332.3,643.8 339.9,646.8 347.5,647.2 355.1,645.9 362.7,647.8 370.3,648.4 377.9,650.5 385.5,650.7 393.1,649.9 400.7,651.0 408.3,655.1 415.9,655.1 423.5,654.5 431.1,655.7 438.7,656.7 446.3,658.2 453.9,658.0 461.5,657.6 469.1,659.4 476.7,658.4 484.2,658.2 491.8,659.0 499.4,660.6 507.0,659.7 514.6,659.2 522.2,657.1 529.8,657.4 537.4,658.4 545.0,658.6 552.6,659.5 560.2,658.7 567.8,657.5 575.4,657.2 583.0,658.7 590.6,659.8 598.2,661.0 605.8,659.9 613.4,652.8 621.0,652.4 628.6,651.6 636.2,652.5 643.8,653.0 651.4,651.6 659.0,650.0 666.6,649.3 674.1,649.3 681.7,649.1 689.3,655.0 696.9,655.9 704.5,655.7 712.1,654.8 719.7,654.8 727.3,655.8 734.9,657.2 742.5,656.3 750.1,656.4 757.7,657.6 765.3,660.2 772.9,660.5 780.5,661.5 788.1,659.4 795.7,656.2 803.3,650.7 810.9,649.7 818.5,650.1 826.1,650.4 833.7,649.5 841.3,648.8 848.9,646.8 856.5,645.0 864.0,647.6 871.6,650.6 879.2,654.5 886.8,654.8 894.4,654.5 902.0,654.3 909.6,654.7 917.2,655.2 924.8,656.7 932.4,657.5 940.0,657.7 947.6,658.1 955.2,659.2 962.8,660.8 970.4,662.4 978.0,662.3 985.6,661.2 993.2,660.5 1000.8,660.9 1008.4,662.4 1016.0,661.4 1023.6,662.1 1031.2,663.1 1038.8,662.3 1046.4,661.8 1053.9,662.1 1061.5,664.2 1069.1,664.8 1076.7,664.9 1084.3,664.2 1091.9,666.1 1099.5,667.2 1107.1,666.4 1114.7,664.8 1122.3,664.3 1129.9,659.7 1137.5,658.4 1145.1,655.2 1152.7,654.1 1160.3,652.6 1167.9,649.1 1175.5,647.5 1183.1,648.1 1190.7,646.4 1198.3,645.5 1205.9,649.7 1213.5,650.6 1221.1,652.4 1228.7,652.4 1236.3,652.0 1243.8,649.4 1251.4,646.6 1259.0,643.1 1266.6,644.3 1274.2,644.0 1281.8,642.4 1289.4,639.8 1297.0,637.8 1304.6,634.8 1312.2,631.5 1319.8,635.1 1327.4,637.8 1335.0,640.1 1342.6,642.3 1350.2,642.5 1357.8,643.7 1365.4,644.7 1373.0,646.2 1380.6,648.9 1388.2,652.2 1395.8,651.9 1403.4,651.0 1411.0,651.9 1418.6,652.6 1426.2,654.0 1433.7,655.3 1441.3,657.9" fill="none" stroke="#ffff00" stroke-width="1.25" stroke-linejoin="round" />
<rect x="1162.5" y="349.7" width="304.5" height="6.5" fill="#808080"/>
<text x="56.21" y="105.7" fill="#c8c8c8" font-size="20" textLength="64.49" lengthAdjust="spacingAndGlyphs">2986.81</text>
<path d="M41.2 89.4 H35.8 V95 L52.4 97.2" fill="none" stroke="#c8c8c8" stroke-width="1.3"/>
<text x="708.88" y="513.5" fill="#c8c8c8" font-size="20" textLength="66.16" lengthAdjust="spacingAndGlyphs">2331.84</text>
<path d="M690 501 V508 M690 505.4 H707.5" fill="none" stroke="#c8c8c8" stroke-width="1.3"/>
<rect x="1163.5" y="328.5" width="150" height="17" fill="#000"/>
<text x="1164.08" y="343.9" fill="#c8c8c8" font-size="20" textLength="148.71" lengthAdjust="spacingAndGlyphs">2577.98 - 2566.63</text>
<path d="M14 185 l7.6 8.8 h-4.5 v8.2 h-6.2 v-8.2 h-4.5 z" fill="#ff0000"/>
<path d="M219.9 265.6 l7.6 8.8 h-4.5 v8.2 h-6.2 v-8.2 h-4.5 z" fill="#ff0000"/>
<path d="M310.6 302.5 l7.6 8.8 h-4.5 v8.2 h-6.2 v-8.2 h-4.5 z" fill="#ff0000"/>
<path d="M325.8 314 l7.6 8.8 h-4.5 v8.2 h-6.2 v-8.2 h-4.5 z" fill="#ff0000"/>
<path d="M522.9 321.5 l7.6 8.8 h-4.5 v8.2 h-6.2 v-8.2 h-4.5 z" fill="#ff0000"/>
<path d="M705.4 494 l7.6 8.8 h-4.5 v8.2 h-6.2 v-8.2 h-4.5 z" fill="#ff0000"/>
<path d="M879.4 459.6 l7.6 8.8 h-4.5 v8.2 h-6.2 v-8.2 h-4.5 z" fill="#ff0000"/>
<path d="M956 457.3 l7.6 8.8 h-4.5 v8.2 h-6.2 v-8.2 h-4.5 z" fill="#ff0000"/>
<path d="M1054.9 453.8 l7.6 8.8 h-4.5 v8.2 h-6.2 v-8.2 h-4.5 z" fill="#ff0000"/>
<path d="M1084.9 476.6 l7.6 8.8 h-4.5 v8.2 h-6.2 v-8.2 h-4.5 z" fill="#ff0000"/>
<path d="M1199.3 470 l7.6 8.8 h-4.5 v8.2 h-6.2 v-8.2 h-4.5 z" fill="#ff0000"/>
<path d="M1213.9 459.6 l7.6 8.8 h-4.5 v8.2 h-6.2 v-8.2 h-4.5 z" fill="#ff0000"/>
<path d="M1236.4 499 l7.6 8.8 h-4.5 v8.2 h-6.2 v-8.2 h-4.5 z" fill="#ff0000"/>
<path d="M64.80000000000001 96.3 h6.2 v8.2 h4.5 l-7.6 8.8 l-7.6 -8.8 h4.5 z" fill="#00ff00"/>
<path d="M216.20000000000002 182 h6.2 v8.2 h4.5 l-7.6 8.8 l-7.6 -8.8 h4.5 z" fill="#00ff00"/>
<path d="M1240.8000000000002 284 h6.2 v8.2 h4.5 l-7.6 8.8 l-7.6 -8.8 h4.5 z" fill="#00ff00"/>
<path d="M437.5 225.0 h5 v8 h4.2 l-6.7 6.9 l-6.7 -6.9 h4.2 z" fill="none" stroke="#00e000" stroke-width="1.7"/>
<path d="M824.3 355.2 h5 v8 h4.2 l-6.7 6.9 l-6.7 -6.9 h4.2 z" fill="none" stroke="#00e000" stroke-width="1.7"/>
<path d="M998.5 371.29999999999995 h5 v8 h4.2 l-6.7 6.9 l-6.7 -6.9 h4.2 z" fill="none" stroke="#00e000" stroke-width="1.7"/>
<path d="M1166.7 348.4 h5 v8 h4.2 l-6.7 6.9 l-6.7 -6.9 h4.2 z" fill="none" stroke="#00e000" stroke-width="1.7"/>
<path d="M1317.5 362.9 h5 v8 h4.2 l-6.7 6.9 l-6.7 -6.9 h4.2 z" fill="none" stroke="#00e000" stroke-width="1.7"/>
<polyline points="5.0,35.0 25.0,50.0 46.0,67.5 53.5,77.9 61.4,87.5 70.2,98.1 79.0,106.8 87.7,114.7 96.9,122.6 104.6,130.5 112.1,138.4 119.7,146.3 124.9,150.4 134.9,149.8 142.5,151.1 150.0,149.0 157.6,146.7 165.3,145.5 172.8,146.7 180.4,152.5 200.9,170.0 210.7,176.1 226.0,185.8 233.6,192.8 241.3,199.0 248.8,205.1 256.4,209.5 263.9,213.0 271.6,217.4 279.2,220.9 286.7,229.7 294.3,237.6 302.0,243.7 309.5,250.7 317.1,257.7 324.8,263.9 332.3,266.5 339.9,267.4 347.6,269.1 355.2,270.9 362.7,273.5 370.2,275.5 385.5,278.2 393.1,277.3 400.8,277.3 408.3,279.0 415.9,280.8 423.4,279.9 431.1,279.9 438.7,278.2 446.2,275.5 453.9,273.8 461.5,271.2 469.0,269.4 476.8,269.4 484.3,270.3 491.8,271.2 499.6,271.2 507.1,271.5 522.2,271.5 537.5,272.0 545.0,272.6 552.6,273.8 560.3,275.2 567.8,278.2 575.4,280.8 582.9,282.5 590.6,283.4 598.2,285.2 605.7,286.9 613.4,292.2 621.0,295.7 628.5,299.2 636.3,302.7 643.8,306.2 651.3,311.5 658.9,317.6 666.6,322.0 674.2,327.3 681.7,335.2 689.4,344.0 697.0,354.5 704.5,365.9 712.2,376.4 715.9,380.0 723.6,385.3 734.9,395.8 742.4,402.8 750.1,408.7 757.7,415.7 765.2,422.7 773.0,428.0 780.5,433.3 788.0,434.7 795.8,434.1 803.3,432.4 810.9,428.9 818.6,426.2 826.1,424.5 833.7,421.0 841.2,415.7 848.9,411.3 856.5,408.7 864.0,407.8 871.7,410.5 879.3,410.8 886.8,408.7 894.4,409.6 902.1,406.9 909.6,406.6 924.7,406.1 932.5,407.3 940.0,410.8 947.5,415.2 955.3,419.6 962.8,422.2 970.4,424.8 978.1,425.7 985.6,426.6 993.2,427.1 1000.9,427.1 1008.4,424.8 1016.0,422.2 1023.5,421.3 1031.2,421.3 1038.8,421.3 1046.3,423.1 1054.1,426.6 1061.6,428.3 1069.1,430.1 1076.9,431.3 1084.4,430.1 1092.0,429.2 1099.5,428.9 1114.8,428.9 1122.3,425.5 1129.9,423.8 1137.4,422.0 1145.1,419.4 1152.7,416.8 1160.2,414.7 1167.9,413.6 1175.5,413.6 1183.0,414.1 1190.7,414.7 1198.3,415.0 1205.8,415.0 1213.4,415.0 1221.1,414.7 1228.7,415.0 1236.2,413.6 1243.9,409.8 1251.5,408.0 1259.0,408.0 1266.7,407.6 1274.3,407.1 1281.8,413.3 1289.4,416.8 1297.1,421.2 1304.7,425.6 1312.2,426.9 1319.8,426.9 1327.5,426.9 1335.0,426.9 1342.6,424.2 1350.3,424.2 1357.8,423.3 1365.4,421.6 1372.9,421.6 1380.6,419.0 1388.2,418.6 1395.7,419.8 1403.5,421.1 1411.0,421.1 1418.5,422.5 1426.3,426.0 1433.8,424.8 1437.5,424.6" fill="none" stroke="#ff00ff" stroke-width="1.25" stroke-linejoin="round" />
<polyline points="5.6,72.6 13.3,85.8 20.9,100.7 28.4,113.9 36.1,127.9 43.7,139.3 51.2,147.2 59.0,150.7 66.5,149.0 74.0,144.6 81.8,141.9 89.3,141.9 96.9,144.6 104.6,147.2 112.1,149.8 119.7,153.9 127.2,153.9 134.9,154.2 142.5,153.9 150.0,151.6 157.6,151.1 165.3,149.8 172.8,151.6 180.4,159.5 189.5,170.0 195.7,177.9 203.2,189.3 210.7,199.0 218.5,208.6 226.0,220.9 233.6,234.9 241.3,245.5 248.8,254.2 256.4,256.0 263.9,252.5 271.6,252.5 279.2,251.6 286.7,256.0 294.3,261.2 302.0,264.8 309.5,265.6 317.1,270.0 324.8,273.5 332.3,276.2 339.9,282.3 347.6,285.8 355.2,289.3 362.7,292.0 370.2,290.5 385.5,290.5 393.1,286.1 400.8,282.6 408.3,281.7 415.9,279.9 423.4,273.8 431.1,268.5 438.7,265.0 446.2,261.5 453.9,256.2 461.5,252.7 469.0,251.8 476.8,255.4 484.3,258.9 491.8,262.4 499.6,267.6 507.1,272.9 514.7,279.9 522.2,283.4 529.9,288.7 537.5,292.2 545.0,294.0 552.6,292.2 560.3,291.3 575.4,292.2 582.9,291.3 590.6,286.9 598.2,286.1 605.7,285.2 613.4,293.1 621.0,297.5 628.5,305.4 636.3,313.3 643.8,321.2 651.3,329.9 658.9,345.7 666.6,359.8 674.2,373.8 681.7,387.9 689.4,401.1 697.0,416.8 704.5,430.9 712.2,441.4 719.8,445.8 727.3,449.3 734.9,448.4 742.4,445.8 750.1,446.4 757.7,442.9 765.2,438.5 773.0,435.0 780.5,432.4 788.0,428.0 795.8,421.0 803.3,414.8 810.9,408.7 818.6,406.1 826.1,402.6 833.7,396.4 841.2,389.4 848.9,385.9 856.5,385.5 864.0,389.4 871.7,396.4 879.3,403.4 886.8,408.7 894.4,410.5 902.1,413.1 909.6,416.6 917.2,421.0 924.7,424.5 932.5,429.2 940.0,431.9 947.5,433.6 955.3,433.6 962.8,434.5 970.4,438.0 978.1,438.0 985.6,434.5 993.2,431.0 1000.9,425.7 1008.4,420.5 1016.0,414.3 1023.5,410.8 1031.2,409.9 1038.8,409.6 1046.3,411.3 1054.1,413.4 1061.6,420.5 1069.1,427.5 1076.9,435.4 1084.4,439.8 1092.0,443.3 1099.5,447.6 1107.2,449.4 1114.8,445.9 1122.3,443.1 1129.9,434.3 1137.4,423.8 1145.1,410.6 1152.7,397.5 1160.2,387.8 1167.9,383.4 1175.5,379.0 1183.0,379.0 1190.7,383.4 1198.3,386.9 1205.8,395.7 1213.4,404.5 1221.1,415.0 1228.7,429.1 1236.2,437.8 1243.9,435.2 1251.5,436.1 1259.0,437.8 1266.7,430.8 1274.3,429.9 1281.8,429.1 1289.4,429.9 1297.1,429.9 1304.7,422.5 1312.2,419.8 1319.8,418.1 1327.5,416.3 1335.0,416.3 1342.6,416.3 1350.3,419.0 1357.8,414.6 1365.4,411.9 1372.9,413.7 1380.6,413.7 1388.2,419.0 1395.7,419.8 1403.5,422.5 1411.0,423.3 1418.5,426.0 1426.3,430.4 1433.8,433.9 1440.1,436.5" fill="none" stroke="#ffff00" stroke-width="1.25" stroke-linejoin="round" />
<polyline points="5.6,152.5 13.3,171.8 20.9,173.5 28.4,152.5 36.1,131.4 43.7,124.4 51.2,124.7 59.0,130.5 66.5,140.2 74.0,153.3 81.8,158.6 89.3,158.6 96.9,158.6 104.6,152.5 112.1,146.7 119.7,149.0 127.2,149.8 134.9,149.8 142.5,154.2 150.0,156.0 157.6,154.2 165.3,149.8 172.8,152.5 180.4,164.8 188.1,182.3 195.7,203.3 203.2,229.7 210.7,245.5 218.5,252.5 226.0,257.7 233.6,263.9 241.3,262.1 248.8,264.8 256.4,256.0 263.9,247.2 271.6,241.9 279.2,240.2 286.7,245.5 294.3,263.0 302.0,278.8 309.5,289.3 317.1,299.8 324.8,299.8 332.3,289.3 339.9,283.2 347.6,284.1 355.2,283.2 362.7,286.7 370.2,294.0 378.0,300.1 385.5,296.6 393.1,283.4 400.8,277.3 408.3,269.4 415.9,259.7 423.4,252.7 431.1,250.6 438.7,251.0 446.2,252.7 453.9,251.8 461.5,251.8 469.0,254.5 476.8,258.9 484.3,264.1 491.8,274.7 499.6,283.4 507.1,292.2 514.7,301.0 522.2,301.9 529.9,303.6 537.5,299.2 545.0,290.5 552.6,283.4 560.3,281.7 567.8,278.2 575.4,282.5 582.9,287.8 590.6,288.7 598.2,292.2 605.7,289.6 613.4,298.3 621.0,308.9 628.5,321.2 636.3,333.4 643.8,347.5 651.3,363.3 658.9,379.1 666.6,399.3 674.2,408.1 681.7,429.1 689.4,446.7 697.0,455.5 704.5,462.5 712.2,473.0 719.8,460.7 727.3,450.2 734.9,440.5 742.4,429.1 750.1,420.1 757.7,423.6 765.2,428.9 773.0,431.5 780.5,435.9 788.0,429.8 795.8,419.2 803.3,405.2 810.9,389.4 818.6,377.1 826.1,371.8 833.7,371.0 841.2,372.7 848.9,382.4 856.5,394.7 864.0,410.5 871.7,424.5 879.3,434.1 886.8,437.6 894.4,431.5 902.1,417.5 909.6,410.5 917.2,411.3 924.7,415.7 932.5,429.2 940.0,443.3 947.5,452.0 955.3,455.5 962.8,450.3 970.4,444.1 978.1,427.5 985.6,415.2 993.2,408.2 1000.9,401.5 1008.4,400.3 1016.0,401.2 1023.5,405.5 1031.2,409.0 1038.8,416.9 1046.3,422.2 1054.1,427.5 1061.6,434.5 1069.1,447.6 1076.9,455.5 1084.4,455.9 1092.0,456.4 1099.5,459.9 1107.2,450.3 1114.8,440.6 1122.3,423.8 1129.9,404.5 1137.4,385.2 1145.1,369.4 1152.7,357.1 1160.2,349.2 1167.9,361.5 1175.5,366.8 1183.0,380.8 1190.7,404.5 1198.3,420.3 1205.8,432.6 1213.4,443.1 1221.1,450.1 1228.7,452.7 1236.2,452.7 1243.9,436.1 1251.5,429.9 1259.0,423.8 1266.7,408.9 1274.3,408.0 1281.8,423.8 1289.4,430.8 1297.1,434.3 1304.7,437.4 1312.2,427.7 1319.8,413.7 1327.5,403.2 1335.0,398.8 1342.6,397.0 1350.3,411.1 1357.8,419.8 1365.4,424.2 1372.9,429.5 1380.6,431.2 1388.2,427.7 1395.7,420.7 1403.5,423.3 1411.0,423.3 1418.5,426.0 1426.3,435.6 1433.8,444.4 1441.4,451.4" fill="none" stroke="#ffffff" stroke-width="1.25" stroke-linejoin="round" />
<polyline points="1212.8,260.4 1260.0,264.2 1308.9,269.7 1340.0,273.0 1376.2,277.2 1420.0,283.5 1440.0,286.6" fill="none" stroke="#00e600" stroke-width="1.5" stroke-linejoin="round" />
<line x1="3" y1="233.7" x2="1467" y2="449.6" stroke="#ffff00" stroke-width="1.5"/>
<line x1="3" y1="343" x2="1161" y2="515" stroke="#ffff00" stroke-width="1.5"/>
<line x1="3" y1="424.8" x2="1467" y2="296.9" stroke="#ffff00" stroke-width="1.5"/>
<line x1="604" y1="514.6" x2="1467" y2="448.8" stroke="#ffff00" stroke-width="1.5"/>
<line x1="1184.4" y1="514.8" x2="1467.3" y2="415.4" stroke="#ffff00" stroke-width="1.5"/>
<polyline points="5.7,852.3 13.3,836.4 20.9,819.6 28.5,803.7 36.1,794.5 43.7,786.1 51.3,786.9 58.9,799.0 66.5,827.2 74.1,848.1 81.7,837.8 89.3,840.0 96.9,828.7 104.4,817.4 112.0,785.7 119.6,793.6 127.2,815.3 134.8,801.3 142.4,817.2 150.0,808.2 157.6,792.3 165.2,805.7 172.8,834.0 180.4,852.6 188.0,862.2 195.6,861.2 203.2,871.2 210.8,852.9 218.4,847.4 226.0,848.0 233.6,850.8 241.2,833.6 248.8,819.1 256.4,766.0 264.0,750.8 271.6,768.2 279.2,798.9 286.8,842.4 294.3,869.0 301.9,866.3 309.5,850.1 317.1,856.9 324.7,850.2 332.3,815.8 339.9,803.3 347.5,812.3 355.1,822.1 362.7,827.3 370.3,824.4 377.9,833.5 385.5,811.7 393.1,775.6 400.7,762.2 408.3,750.8 415.9,751.5 423.5,747.6 431.1,750.7 438.7,776.8 446.3,801.8 453.9,793.9 461.5,788.4 469.1,805.5 476.7,857.0 484.2,878.5 491.8,882.0 499.4,871.7 507.0,866.1 514.6,873.9 522.2,849.1 529.8,838.4 537.4,793.5 545.0,759.3 552.6,754.4 560.2,754.7 567.8,791.2 575.4,804.6 583.0,798.6 590.6,810.2 598.2,820.0 605.8,824.3 613.4,844.9 621.0,853.0 628.6,865.1 636.2,859.2 643.8,871.0 651.4,863.2 659.0,866.7 666.6,869.7 674.1,850.2 681.7,858.2 689.3,850.6 696.9,851.4 704.5,849.9 712.1,831.3 719.7,788.3 727.3,755.7 734.9,764.5 742.5,753.2 750.1,748.3 757.7,765.1 765.3,785.2 772.9,802.6 780.5,834.9 788.1,794.7 795.7,768.7 803.3,760.2 810.9,757.9 818.5,774.4 826.1,785.8 833.7,783.1 841.3,781.1 848.9,806.0 856.5,843.4 864.0,872.8 871.6,880.0 879.2,847.5 886.8,843.8 894.4,813.5 902.0,799.6 909.6,804.4 917.2,798.4 924.8,832.0 932.4,843.0 940.0,864.7 947.6,854.1 955.2,823.5 962.8,809.5 970.4,781.5 978.0,768.7 985.6,747.2 993.2,748.2 1000.8,754.7 1008.4,773.6 1016.0,796.2 1023.6,826.1 1031.2,810.0 1038.8,855.9 1046.4,874.5 1053.9,865.7 1061.5,875.2 1069.1,875.7 1076.7,875.0 1084.3,853.7 1091.9,832.9 1099.5,837.8 1107.1,774.6 1114.7,753.8 1122.3,747.0 1129.9,736.8 1137.5,744.5 1145.1,751.5 1152.7,760.1 1160.3,755.5 1167.9,797.0 1175.5,840.3 1183.1,862.8 1190.7,876.4 1198.3,861.4 1205.9,863.3 1213.5,860.1 1221.1,853.1 1228.7,867.0 1236.3,825.2 1243.8,779.6 1251.4,786.6 1259.0,786.3 1266.6,787.1 1274.2,792.9 1281.8,826.5 1289.4,833.3 1297.0,825.7 1304.6,823.1 1312.2,775.1 1319.8,767.8 1327.4,772.1 1335.0,784.2 1342.6,790.5 1350.2,819.3 1357.8,841.0 1365.4,840.4 1373.0,859.5 1380.6,843.9 1388.2,830.4 1395.8,799.3 1403.4,817.7 1411.0,814.4 1418.6,829.8 1426.2,858.4 1433.7,865.4 1441.3,868.9" fill="none" stroke="#ff00ff" stroke-width="1.25" stroke-linejoin="round" />
<polyline points="5.7,832.2 13.3,833.9 20.9,832.2 28.5,828.8 36.1,824.6 43.7,818.8 51.3,814.6 58.9,811.6 66.5,814.6 74.1,819.5 81.7,822.1 89.3,824.6 96.9,825.2 104.4,824.1 112.0,818.6 119.6,815.0 127.2,815.1 134.8,813.1 142.4,813.7 150.0,812.9 157.6,810.0 165.2,809.3 172.8,812.9 180.4,818.5 188.0,824.8 195.6,830.0 203.2,835.9 210.8,838.3 218.4,839.6 226.0,840.8 233.6,842.2 241.2,841.0 248.8,837.9 256.4,827.6 264.0,816.6 271.6,809.7 279.2,808.2 286.8,813.1 294.3,821.0 301.9,827.5 309.5,830.7 317.1,834.5 324.7,836.7 332.3,833.7 339.9,829.4 347.5,826.9 355.1,826.3 362.7,826.4 370.3,826.1 377.9,827.2 385.5,825.0 393.1,817.9 400.7,809.9 408.3,801.5 415.9,794.4 423.5,787.7 431.1,782.4 438.7,781.6 446.3,784.5 453.9,785.8 461.5,786.2 469.1,789.0 476.7,798.7 484.2,810.1 491.8,820.4 499.4,827.7 507.0,833.2 514.6,839.0 522.2,840.4 529.8,840.1 537.4,833.5 545.0,822.9 552.6,813.1 560.2,804.8 567.8,802.8 575.4,803.1 583.0,802.4 590.6,803.6 598.2,805.9 605.8,808.5 613.4,813.7 621.0,819.3 628.6,825.9 636.2,830.6 643.8,836.4 651.4,840.2 659.0,844.0 666.6,847.7 674.1,848.0 681.7,849.5 689.3,849.6 696.9,849.9 704.5,849.9 712.1,847.2 719.7,838.8 727.3,826.9 734.9,818.0 742.5,808.8 750.1,800.1 757.7,795.1 765.3,793.7 772.9,795.0 780.5,800.7 788.1,799.8 795.7,795.4 803.3,790.4 810.9,785.7 818.5,784.1 826.1,784.3 833.7,784.2 841.3,783.7 848.9,786.9 856.5,795.0 864.0,806.1 871.6,816.7 879.2,821.1 886.8,824.3 894.4,822.8 902.0,819.5 909.6,817.3 917.2,814.6 924.8,817.1 932.4,820.8 940.0,827.1 947.6,830.9 955.2,829.9 962.8,827.0 970.4,820.5 978.0,813.1 985.6,803.7 993.2,795.7 1000.8,789.9 1008.4,787.5 1016.0,788.8 1023.6,794.1 1031.2,796.4 1038.8,804.9 1046.4,814.8 1053.9,822.1 1061.5,829.7 1069.1,836.3 1076.7,841.8 1084.3,843.5 1091.9,842.0 1099.5,841.4 1107.1,831.9 1114.7,820.7 1122.3,810.2 1129.9,799.7 1137.5,791.8 1145.1,786.1 1152.7,782.4 1160.3,778.5 1167.9,781.2 1175.5,789.6 1183.1,800.1 1190.7,811.0 1198.3,818.2 1205.9,824.6 1213.5,829.7 1221.1,833.0 1228.7,837.9 1236.3,836.1 1243.8,828.0 1251.4,822.1 1259.0,817.0 1266.6,812.7 1274.2,809.9 1281.8,812.3 1289.4,815.3 1297.0,816.7 1304.6,817.7 1312.2,811.6 1319.8,805.3 1327.4,800.6 1335.0,798.2 1342.6,797.1 1350.2,800.3 1357.8,806.1 1365.4,811.0 1373.0,817.9 1380.6,821.6 1388.2,822.9 1395.8,819.5 1403.4,819.3 1411.0,818.6 1418.6,820.2 1426.2,825.6 1433.7,831.3 1441.3,836.7" fill="none" stroke="#ffff00" stroke-width="1.25" stroke-linejoin="round" />
<polyline points="5.7,838.9 13.3,834.7 20.9,828.0 28.5,820.5 36.1,814.6 43.7,807.9 51.3,805.4 58.9,807.4 66.5,818.8 74.1,829.0 81.7,827.3 89.3,829.7 96.9,826.4 104.4,821.9 112.0,807.6 119.6,807.9 127.2,815.1 134.8,809.2 142.4,814.8 150.0,811.3 157.6,804.1 165.2,808.1 172.8,819.9 180.4,829.9 188.0,837.3 195.6,840.4 203.2,847.6 210.8,843.2 218.4,842.2 226.0,843.2 233.6,845.1 241.2,838.5 248.8,831.6 256.4,807.1 264.0,794.7 271.6,795.9 279.2,805.1 286.8,822.8 294.3,837.0 301.9,840.4 309.5,837.2 317.1,841.9 324.7,841.2 332.3,827.7 339.9,820.7 347.5,822.1 355.1,824.9 362.7,826.7 370.3,825.5 377.9,829.3 385.5,820.5 393.1,803.8 400.7,794.0 408.3,784.6 415.9,780.1 423.5,774.3 431.1,771.8 438.7,780.0 446.3,790.3 453.9,788.5 461.5,786.9 469.1,794.5 476.7,818.1 484.2,832.9 491.8,840.9 499.4,842.4 507.0,844.2 514.6,850.6 522.2,843.3 529.8,839.6 537.4,820.1 545.0,801.7 552.6,793.6 560.2,788.1 567.8,799.0 575.4,803.6 583.0,801.2 590.6,805.8 598.2,810.6 605.8,813.8 613.4,824.1 621.0,830.6 628.6,839.0 636.2,840.1 643.8,847.9 651.4,847.9 659.0,851.6 666.6,855.0 674.1,848.8 681.7,852.4 689.3,850.0 696.9,850.4 704.5,849.9 712.1,841.9 719.7,822.0 727.3,803.2 734.9,800.2 742.5,790.2 750.1,782.9 757.7,785.1 765.3,790.9 772.9,797.5 780.5,812.1 788.1,798.1 795.7,786.5 803.3,780.3 810.9,776.4 818.5,780.9 826.1,784.8 833.7,783.8 841.3,782.9 848.9,793.3 856.5,811.1 864.0,828.3 871.6,837.8 879.2,829.9 886.8,830.8 894.4,819.7 902.0,812.8 909.6,813.0 917.2,809.2 924.8,822.1 932.4,828.2 940.0,839.6 947.6,838.6 955.2,827.7 962.8,821.1 970.4,807.5 978.0,798.3 985.6,784.8 993.2,779.9 1000.8,778.1 1008.4,782.9 1016.0,791.3 1023.6,804.8 1031.2,800.9 1038.8,821.9 1046.4,834.7 1053.9,836.6 1061.5,844.9 1069.1,849.4 1076.7,852.9 1084.3,846.9 1091.9,839.0 1099.5,840.2 1107.1,812.8 1114.7,798.4 1122.3,789.1 1129.9,778.7 1137.5,776.1 1145.1,774.6 1152.7,774.9 1160.3,770.8 1167.9,786.5 1175.5,806.5 1183.1,821.0 1190.7,832.8 1198.3,832.6 1205.9,837.5 1213.5,839.8 1221.1,839.7 1228.7,847.6 1236.3,832.5 1243.8,811.9 1251.4,810.3 1259.0,806.7 1266.6,804.2 1274.2,804.2 1281.8,817.0 1289.4,821.3 1297.0,819.7 1304.6,819.5 1312.2,799.4 1319.8,792.8 1327.4,791.1 1335.0,793.6 1342.6,794.9 1350.2,806.6 1357.8,817.8 1365.4,820.8 1373.0,831.8 1380.6,829.0 1388.2,825.4 1395.8,812.8 1403.4,818.7 1411.0,817.2 1418.6,823.4 1426.2,836.6 1433.7,842.7 1441.3,847.4" fill="none" stroke="#ffffff" stroke-width="1.25" stroke-linejoin="round" />
<rect x="1467" y="4" width="2" height="704" fill="#a40000"/>
<rect x="1467.2" y="708" width="3.6" height="175" fill="#c00000"/>
<rect x="2" y="532" width="1482" height="2" fill="#a40000"/>
<rect x="2" y="707" width="1482" height="2" fill="#a40000"/>
<rect x="1469" y="707" width="15" height="3.5" fill="#c00000"/>
<rect x="1469" y="81.55" width="7.8" height="1.5" fill="#a40000"/>
<rect x="1469" y="144.75" width="7.8" height="1.5" fill="#a40000"/>
<rect x="1469" y="207.95" width="7.8" height="1.5" fill="#a40000"/>
<rect x="1469" y="271.25" width="7.8" height="1.5" fill="#a40000"/>
<rect x="1469" y="334.75" width="7.8" height="1.5" fill="#a40000"/>
<rect x="1469" y="398.25" width="7.8" height="1.5" fill="#a40000"/>
<rect x="1469" y="461.55" width="7.8" height="1.5" fill="#a40000"/>
<rect x="1469" y="113.25" width="3.6" height="1.5" fill="#a40000"/>
<rect x="1469" y="176.45" width="3.6" height="1.5" fill="#a40000"/>
<rect x="1469" y="239.64999999999998" width="3.6" height="1.5" fill="#a40000"/>
<rect x="1469" y="302.95" width="3.6" height="1.5" fill="#a40000"/>
<rect x="1469" y="366.45" width="3.6" height="1.5" fill="#a40000"/>
<rect x="1469" y="429.95" width="3.6" height="1.5" fill="#a40000"/>
<rect x="1469" y="582.65" width="7.8" height="1.5" fill="#a40000"/>
<rect x="1469" y="623.25" width="7.8" height="1.5" fill="#a40000"/>
<rect x="1469" y="663.95" width="7.8" height="1.5" fill="#a40000"/>
<rect x="1469" y="603.95" width="3.6" height="1.5" fill="#a40000"/>
<rect x="1469" y="644.05" width="3.6" height="1.5" fill="#a40000"/>
<rect x="1469" y="685" width="15" height="2" fill="#a40000"/>
<path d="M1472 689.5 L1482.5 703 M1482.5 689.5 L1472 703" stroke="#e03a3a" stroke-width="1.5" fill="none"/>
<path d="M1435.3 11.4 L1443.3 19.4 L1435.3 27.4 L1427.3 19.4 Z" stroke="#a40000" stroke-width="1.4" fill="none"/>
<rect x="1449.9" y="11.6" width="14.2" height="15.6" stroke="#a40000" stroke-width="1.5" fill="none"/>
<line x1="1459.4" y1="11.6" x2="1459.4" y2="27.2" stroke="#a40000" stroke-width="1.5"/>
<defs><linearGradient id="tg" x1="0" y1="0" x2="0" y2="1"><stop offset="0" stop-color="#d6d6d6"/><stop offset="0.6" stop-color="#d0d0d0"/><stop offset="1" stop-color="#000"/></linearGradient></defs>
<rect x="0" y="0" width="1484" height="5" fill="url(#tg)"/>
<rect x="0" y="0" width="2" height="883" fill="#dcdcdc"/>
<path d="M2 443 L15 458.5 L15 505.5 L2 524.5 Z" fill="#383838" fill-opacity="0.82" stroke="#606060" stroke-width="1.3"/>
<path d="M3.5 474.7 L11 482.2 L3.5 489.7 Z" fill="#e09a00"/>
<text fill="#c8c8c8" xml:space="preserve"><tspan x="3.08" y="25.6" font-size="18.3" textLength="36.65" lengthAdjust="spacingAndGlyphs">上证</tspan><tspan x="40.32" y="24.8" font-size="20" textLength="18.92" lengthAdjust="spacingAndGlyphs">50</tspan><tspan x="61.08" y="24.8" font-size="20" textLength="4.52" lengthAdjust="spacingAndGlyphs">(</tspan><tspan x="64.44" y="25.6" font-size="18.3" textLength="37.21" lengthAdjust="spacingAndGlyphs">日线</tspan><tspan x="102.48" y="24.8" font-size="20" textLength="4.68" lengthAdjust="spacingAndGlyphs">.</tspan><tspan x="106.48" y="25.6" font-size="18.3" textLength="55.16" lengthAdjust="spacingAndGlyphs">前复权</tspan><tspan x="162.75" y="24.8" font-size="20" textLength="3.52" lengthAdjust="spacingAndGlyphs">)</tspan></text>
<path d="M183.6 9.2 L191.2 17.6 L187 17.6 L187 25.6 L180.3 25.6 L180.3 17.6 L176 17.6 Z" fill="#ff0000"/>
<text fill="#ffffff" xml:space="preserve"><tspan x="196.07" y="24.8" font-size="20" textLength="38.90" lengthAdjust="spacingAndGlyphs">MA5:</tspan> <tspan x="239.59" y="24.8" font-size="20" textLength="65.73" lengthAdjust="spacingAndGlyphs">2416.86</tspan></text>
<text fill="#ffff00" xml:space="preserve"><tspan x="314.12" y="24.8" font-size="20" textLength="49.71" lengthAdjust="spacingAndGlyphs">MA10:</tspan> <tspan x="368.28" y="24.8" font-size="20" textLength="66.43" lengthAdjust="spacingAndGlyphs">2437.37</tspan></text>
<text fill="#ff00ff" xml:space="preserve"><tspan x="443.32" y="24.8" font-size="20" textLength="49.93" lengthAdjust="spacingAndGlyphs">MA20:</tspan> <tspan x="497.48" y="24.8" font-size="20" textLength="66.55" lengthAdjust="spacingAndGlyphs">2457.48</tspan></text>
<text fill="#00e600" xml:space="preserve"><tspan x="572.31" y="24.8" font-size="20" textLength="59.67" lengthAdjust="spacingAndGlyphs">MA250:</tspan> <tspan x="637.39" y="24.8" font-size="20" textLength="66.14" lengthAdjust="spacingAndGlyphs">2678.36</tspan></text>
<text fill="#ffffff" xml:space="preserve"><tspan x="2.31" y="551.5" font-size="20" textLength="78.37" lengthAdjust="spacingAndGlyphs">VOLUME:</tspan> <tspan x="85.92" y="551.5" font-size="20" textLength="107.62" lengthAdjust="spacingAndGlyphs">14968936.00</tspan></text>
<text fill="#ffffff" xml:space="preserve"><tspan x="202.04" y="551.5" font-size="20" textLength="39.77" lengthAdjust="spacingAndGlyphs">MA5:</tspan> <tspan x="244.20" y="551.5" font-size="20" textLength="109.25" lengthAdjust="spacingAndGlyphs">18146704.00</tspan></text>
<text fill="#ffff00" xml:space="preserve"><tspan x="362.33" y="551.5" font-size="20" textLength="49.39" lengthAdjust="spacingAndGlyphs">MA10:</tspan> <tspan x="416.77" y="551.5" font-size="20" textLength="107.69" lengthAdjust="spacingAndGlyphs">23066116.00</tspan></text>
<text x="1.74" y="726.6" fill="#c8c8c8" font-size="20" textLength="87.44" lengthAdjust="spacingAndGlyphs">KDJ(9,3,3)</text>
<text fill="#ffffff" xml:space="preserve"><tspan x="95.98" y="726.6" font-size="20" textLength="17.92" lengthAdjust="spacingAndGlyphs">K:</tspan> <tspan x="119.50" y="726.6" font-size="20" textLength="43.26" lengthAdjust="spacingAndGlyphs">15.94</tspan></text>
<text fill="#ffff00" xml:space="preserve"><tspan x="171.04" y="726.6" font-size="20" textLength="18.30" lengthAdjust="spacingAndGlyphs">D:</tspan> <tspan x="194.91" y="726.6" font-size="20" textLength="44.66" lengthAdjust="spacingAndGlyphs">26.80</tspan></text>
<text fill="#ff00ff" xml:space="preserve"><tspan x="247.74" y="726.6" font-size="20" textLength="13.70" lengthAdjust="spacingAndGlyphs">J:</tspan> <tspan x="265.89" y="726.6" font-size="20" textLength="41.11" lengthAdjust="spacingAndGlyphs">-5.79</tspan></text></svg></body></html>
